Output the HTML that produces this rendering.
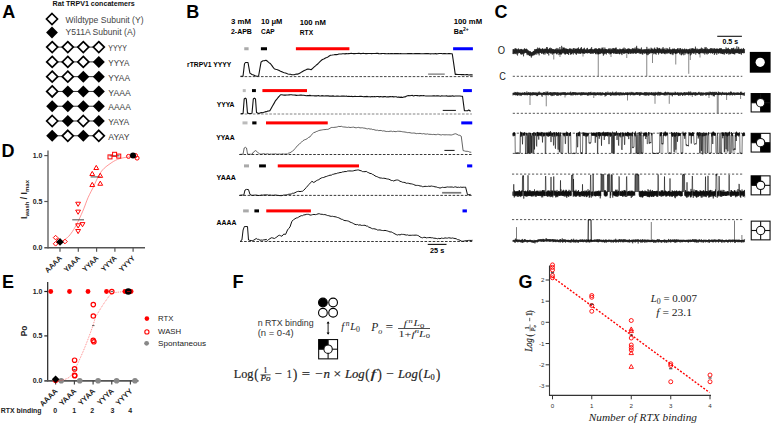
<!DOCTYPE html>
<html><head><meta charset="utf-8"><style>
html,body{margin:0;padding:0;background:#fff;width:772px;height:424px;overflow:hidden}
svg{display:block}
</style></head><body>
<svg width="772" height="424" viewBox="0 0 772 424">
<rect width="772" height="424" fill="#fff"/>
<text x="2.3" y="18" font-size="18" font-family="Liberation Sans" fill="#000" font-weight="bold">A</text>
<text x="186.3" y="18.1" font-size="18" font-family="Liberation Sans" fill="#000" font-weight="bold">B</text>
<text x="494.6" y="18.1" font-size="18" font-family="Liberation Sans" fill="#000" font-weight="bold">C</text>
<text x="1.6" y="157.3" font-size="18" font-family="Liberation Sans" fill="#000" font-weight="bold">D</text>
<text x="2" y="288.1" font-size="18" font-family="Liberation Sans" fill="#000" font-weight="bold">E</text>
<text x="232.6" y="287.9" font-size="18" font-family="Liberation Sans" fill="#000" font-weight="bold">F</text>
<text x="518.6" y="288" font-size="18" font-family="Liberation Sans" fill="#000" font-weight="bold">G</text>
<text x="52.6" y="6.4" font-size="7.9" font-family="Liberation Sans" fill="#111" font-weight="bold" textLength="82" lengthAdjust="spacingAndGlyphs">Rat TRPV1 concatemers</text>
<path d="M52 13.5 L57.5 19 L52 24.5 L46.5 19 Z" fill="#fff" stroke="#000" stroke-width="1.7"/>
<path d="M52 26.6 L57.9 32.5 L52 38.4 L46.1 32.5 Z" fill="#000"/>
<text x="65.5" y="22.9" font-size="9.0" font-family="Liberation Sans" fill="#444" textLength="78" lengthAdjust="spacingAndGlyphs">Wildtype Subunit (Y)</text>
<text x="65.5" y="35.4" font-size="9.0" font-family="Liberation Sans" fill="#444" textLength="70" lengthAdjust="spacingAndGlyphs">Y511A Subunit (A)</text>
<line x1="52.2" y1="47.1" x2="98.8" y2="47.1" stroke="#333" stroke-width="1" />
<path d="M52.2 41.6 L57.7 47.1 L52.2 52.6 L46.7 47.1 Z" fill="#fff" stroke="#000" stroke-width="1.7"/>
<path d="M67.8 41.6 L73.3 47.1 L67.8 52.6 L62.3 47.1 Z" fill="#fff" stroke="#000" stroke-width="1.7"/>
<path d="M83.3 41.6 L88.8 47.1 L83.3 52.6 L77.8 47.1 Z" fill="#fff" stroke="#000" stroke-width="1.7"/>
<path d="M98.8 41.6 L104.3 47.1 L98.8 52.6 L93.3 47.1 Z" fill="#fff" stroke="#000" stroke-width="1.7"/>
<text x="108.3" y="51.3" font-size="8.7" font-family="Liberation Sans" fill="#3a3a3a" textLength="18.5" lengthAdjust="spacingAndGlyphs">YYYY</text>
<line x1="52.2" y1="61.88" x2="98.8" y2="61.88" stroke="#333" stroke-width="1" />
<path d="M52.2 56.38 L57.7 61.88 L52.2 67.38 L46.7 61.88 Z" fill="#fff" stroke="#000" stroke-width="1.7"/>
<path d="M67.8 56.38 L73.3 61.88 L67.8 67.38 L62.3 61.88 Z" fill="#fff" stroke="#000" stroke-width="1.7"/>
<path d="M83.3 56.38 L88.8 61.88 L83.3 67.38 L77.8 61.88 Z" fill="#fff" stroke="#000" stroke-width="1.7"/>
<path d="M98.8 55.88 L104.8 61.88 L98.8 67.88 L92.8 61.88 Z" fill="#000"/>
<text x="108.3" y="66.08" font-size="8.7" font-family="Liberation Sans" fill="#3a3a3a" textLength="21" lengthAdjust="spacingAndGlyphs">YYYA</text>
<line x1="52.2" y1="76.66" x2="98.8" y2="76.66" stroke="#333" stroke-width="1" />
<path d="M52.2 71.16 L57.7 76.66 L52.2 82.16 L46.7 76.66 Z" fill="#fff" stroke="#000" stroke-width="1.7"/>
<path d="M67.8 71.16 L73.3 76.66 L67.8 82.16 L62.3 76.66 Z" fill="#fff" stroke="#000" stroke-width="1.7"/>
<path d="M83.3 70.66 L89.3 76.66 L83.3 82.66 L77.3 76.66 Z" fill="#000"/>
<path d="M98.8 70.66 L104.8 76.66 L98.8 82.66 L92.8 76.66 Z" fill="#000"/>
<text x="108.3" y="80.86" font-size="8.7" font-family="Liberation Sans" fill="#3a3a3a" textLength="21.7" lengthAdjust="spacingAndGlyphs">YYAA</text>
<line x1="52.2" y1="91.44" x2="98.8" y2="91.44" stroke="#333" stroke-width="1" />
<path d="M52.2 85.94 L57.7 91.44 L52.2 96.94 L46.7 91.44 Z" fill="#fff" stroke="#000" stroke-width="1.7"/>
<path d="M67.8 85.44 L73.8 91.44 L67.8 97.44 L61.8 91.44 Z" fill="#000"/>
<path d="M83.3 85.44 L89.3 91.44 L83.3 97.44 L77.3 91.44 Z" fill="#000"/>
<path d="M98.8 85.44 L104.8 91.44 L98.8 97.44 L92.8 91.44 Z" fill="#000"/>
<text x="108.3" y="95.64" font-size="8.7" font-family="Liberation Sans" fill="#3a3a3a" textLength="22.4" lengthAdjust="spacingAndGlyphs">YAAA</text>
<line x1="52.2" y1="106.22" x2="98.8" y2="106.22" stroke="#333" stroke-width="1" />
<path d="M52.2 100.22 L58.2 106.22 L52.2 112.22 L46.2 106.22 Z" fill="#000"/>
<path d="M67.8 100.22 L73.8 106.22 L67.8 112.22 L61.8 106.22 Z" fill="#000"/>
<path d="M83.3 100.22 L89.3 106.22 L83.3 112.22 L77.3 106.22 Z" fill="#000"/>
<path d="M98.8 100.22 L104.8 106.22 L98.8 112.22 L92.8 106.22 Z" fill="#000"/>
<text x="108.3" y="110.42" font-size="8.7" font-family="Liberation Sans" fill="#3a3a3a" textLength="22.5" lengthAdjust="spacingAndGlyphs">AAAA</text>
<line x1="52.2" y1="121" x2="98.8" y2="121" stroke="#333" stroke-width="1" />
<path d="M52.2 115.5 L57.7 121 L52.2 126.5 L46.7 121 Z" fill="#fff" stroke="#000" stroke-width="1.7"/>
<path d="M67.8 115 L73.8 121 L67.8 127 L61.8 121 Z" fill="#000"/>
<path d="M83.3 115.5 L88.8 121 L83.3 126.5 L77.8 121 Z" fill="#fff" stroke="#000" stroke-width="1.7"/>
<path d="M98.8 115 L104.8 121 L98.8 127 L92.8 121 Z" fill="#000"/>
<text x="108.3" y="125.2" font-size="8.7" font-family="Liberation Sans" fill="#3a3a3a" textLength="20.9" lengthAdjust="spacingAndGlyphs">YAYA</text>
<line x1="52.2" y1="135.78" x2="98.8" y2="135.78" stroke="#333" stroke-width="1" />
<path d="M52.2 129.78 L58.2 135.78 L52.2 141.78 L46.2 135.78 Z" fill="#000"/>
<path d="M67.8 130.28 L73.3 135.78 L67.8 141.28 L62.3 135.78 Z" fill="#fff" stroke="#000" stroke-width="1.7"/>
<path d="M83.3 129.78 L89.3 135.78 L83.3 141.78 L77.3 135.78 Z" fill="#000"/>
<path d="M98.8 130.28 L104.3 135.78 L98.8 141.28 L93.3 135.78 Z" fill="#fff" stroke="#000" stroke-width="1.7"/>
<text x="108.3" y="139.98" font-size="8.7" font-family="Liberation Sans" fill="#3a3a3a" textLength="21.1" lengthAdjust="spacingAndGlyphs">AYAY</text>
<line x1="48" y1="150.6" x2="48" y2="248.4" stroke="#555" stroke-width="1.3" />
<line x1="44.3" y1="247.75" x2="145" y2="247.75" stroke="#555" stroke-width="1.3" />
<line x1="44.3" y1="155.6" x2="48" y2="155.6" stroke="#555" stroke-width="1.2" />
<line x1="44.3" y1="201.5" x2="48" y2="201.5" stroke="#555" stroke-width="1.2" />
<text x="42.4" y="158.1" font-size="7" font-family="Liberation Sans" fill="#222" font-weight="bold" text-anchor="end">1.0</text>
<text x="42.4" y="204" font-size="7" font-family="Liberation Sans" fill="#222" font-weight="bold" text-anchor="end">0.5</text>
<text x="42.4" y="250.25" font-size="7" font-family="Liberation Sans" fill="#222" font-weight="bold" text-anchor="end">0.0</text>
<line x1="60" y1="247.75" x2="60" y2="251.8" stroke="#555" stroke-width="1.2" />
<line x1="78.3" y1="247.75" x2="78.3" y2="251.8" stroke="#555" stroke-width="1.2" />
<line x1="96.6" y1="247.75" x2="96.6" y2="251.8" stroke="#555" stroke-width="1.2" />
<line x1="114.9" y1="247.75" x2="114.9" y2="251.8" stroke="#555" stroke-width="1.2" />
<line x1="133.1" y1="247.75" x2="133.1" y2="251.8" stroke="#555" stroke-width="1.2" />
<text x="62.4" y="258.6" font-size="7.2" font-family="Liberation Sans" fill="#222" font-weight="bold" text-anchor="end" transform="rotate(-45 62.4 258.6)">AAAA</text>
<text x="80.7" y="258.6" font-size="7.2" font-family="Liberation Sans" fill="#222" font-weight="bold" text-anchor="end" transform="rotate(-45 80.7 258.6)">YAAA</text>
<text x="99" y="258.6" font-size="7.2" font-family="Liberation Sans" fill="#222" font-weight="bold" text-anchor="end" transform="rotate(-45 99 258.6)">YYAA</text>
<text x="117.3" y="258.6" font-size="7.2" font-family="Liberation Sans" fill="#222" font-weight="bold" text-anchor="end" transform="rotate(-45 117.3 258.6)">YYYA</text>
<text x="135.5" y="258.6" font-size="7.2" font-family="Liberation Sans" fill="#222" font-weight="bold" text-anchor="end" transform="rotate(-45 135.5 258.6)">YYYY</text>
<text transform="translate(27.2 199.5) rotate(-90)" text-anchor="middle" font-family="Liberation Sans" font-weight="bold" font-size="8.6" fill="#222">I<tspan font-size="6" dy="2">wash</tspan><tspan dy="-2"> / I</tspan><tspan font-size="6" dy="2">max</tspan></text>
<path d="M60.5 242.2 L61.1 241.84 L61.95 241.33 L62.96 240.71 L64 240 L65.09 239.24 L66.28 238.42 L67.52 237.44 L68.75 236.25 L69.98 234.82 L71.23 233.18 L72.49 231.36 L73.75 229.4 L75 227.27 L76.25 224.98 L77.5 222.54 L78.75 220 L80.02 217.32 L81.29 214.49 L82.55 211.61 L83.75 208.75 L84.85 205.94 L85.88 203.12 L86.94 200.31 L88.1 197.5 L89.47 194.61 L90.96 191.68 L92.44 188.84 L93.75 186.25 L94.79 183.99 L95.67 181.98 L96.52 180.06 L97.5 178.1 L98.6 176.03 L99.77 173.93 L101.04 171.89 L102.5 170 L104.2 168.26 L106.09 166.64 L108.07 165.14 L110 163.75 L111.85 162.48 L113.67 161.32 L115.54 160.29 L117.5 159.4 L119.6 158.68 L121.8 158.12 L124.03 157.66 L126.25 157.25 L128.64 156.89 L131.17 156.59 L133.43 156.36 L135 156.2" fill="none" stroke="#ff6a6a" stroke-width="0.7" stroke-linejoin="round" />
<line x1="72.25" y1="219.8" x2="84" y2="219.8" stroke="#666" stroke-width="1.2" />
<line x1="90.6" y1="176.9" x2="100.6" y2="176.9" stroke="#666" stroke-width="1.2" />
<line x1="109.5" y1="155.8" x2="119.5" y2="155.8" stroke="#666" stroke-width="1.2" />
<path d="M55.6 235.3 L57.9 237.6 L55.6 239.9 L53.3 237.6 Z" fill="#fff" stroke="#f00" stroke-width="1"/>
<path d="M55.6 241.5 L57.9 243.8 L55.6 246.1 L53.3 243.8 Z" fill="#fff" stroke="#f00" stroke-width="1"/>
<path d="M65 239.2 L67.3 241.5 L65 243.8 L62.7 241.5 Z" fill="#fff" stroke="#f00" stroke-width="1"/>
<path d="M58.5 238.5 L60.8 240.8 L58.5 243.1 L56.2 240.8 Z" fill="#fff" stroke="#f00" stroke-width="1"/>
<path d="M60 238.1 L63.8 241.9 L60 245.7 L56.2 241.9 Z" fill="#000"/>
<path d="M78.1 206.38 L80.52 202.22 L75.68 202.22 Z" fill="none" stroke="#f00" stroke-width="1"/>
<path d="M78.1 214.28 L80.52 210.12 L75.68 210.12 Z" fill="none" stroke="#f00" stroke-width="1"/>
<path d="M78.1 227.98 L80.52 223.82 L75.68 223.82 Z" fill="none" stroke="#f00" stroke-width="1"/>
<path d="M82.5 226.78 L84.92 222.62 L80.08 222.62 Z" fill="none" stroke="#f00" stroke-width="1"/>
<path d="M78.1 233.63 L80.52 229.47 L75.68 229.47 Z" fill="none" stroke="#f00" stroke-width="1"/>
<path d="M96.25 165.37 L98.67 169.53 L93.83 169.53 Z" fill="none" stroke="#f00" stroke-width="1"/>
<path d="M92.25 171.37 L94.67 175.53 L89.83 175.53 Z" fill="none" stroke="#f00" stroke-width="1"/>
<path d="M100.25 173.22 L102.67 177.38 L97.83 177.38 Z" fill="none" stroke="#f00" stroke-width="1"/>
<path d="M92.25 182.37 L94.67 186.53 L89.83 186.53 Z" fill="none" stroke="#f00" stroke-width="1"/>
<path d="M100.25 181.12 L102.67 185.28 L97.83 185.28 Z" fill="none" stroke="#f00" stroke-width="1"/>
<rect x="108" y="154.9" width="4" height="4" fill="none" stroke="#f00" stroke-width="1"/>
<rect x="112.6" y="152.3" width="4" height="4" fill="none" stroke="#f00" stroke-width="1"/>
<rect x="116.75" y="154.1" width="4" height="4" fill="none" stroke="#f00" stroke-width="1"/>
<circle cx="128.5" cy="156.4" r="2" fill="none" stroke="#f00" stroke-width="1"/>
<circle cx="137.1" cy="158.1" r="2" fill="none" stroke="#f00" stroke-width="1"/>
<circle cx="135.5" cy="155.5" r="2" fill="none" stroke="#f00" stroke-width="1"/>
<circle cx="133" cy="155.6" r="3" fill="#000" stroke="none" stroke-width="1"/>
<line x1="47.7" y1="281.9" x2="47.7" y2="381.5" stroke="#222" stroke-width="1.2" />
<line x1="44.3" y1="380.8" x2="138.5" y2="380.8" stroke="#555" stroke-width="1.8" />
<line x1="44.3" y1="291.5" x2="47.7" y2="291.5" stroke="#222" stroke-width="1.2" />
<line x1="44.3" y1="335.9" x2="47.7" y2="335.9" stroke="#222" stroke-width="1.2" />
<text x="42.4" y="294" font-size="7" font-family="Liberation Sans" fill="#222" font-weight="bold" text-anchor="end">1.0</text>
<text x="42.4" y="338.4" font-size="7" font-family="Liberation Sans" fill="#222" font-weight="bold" text-anchor="end">0.5</text>
<text x="42.4" y="383.3" font-size="7" font-family="Liberation Sans" fill="#222" font-weight="bold" text-anchor="end">0.0</text>
<line x1="55.6" y1="380.8" x2="55.6" y2="384.6" stroke="#444" stroke-width="1.2" />
<line x1="74.4" y1="380.8" x2="74.4" y2="384.6" stroke="#444" stroke-width="1.2" />
<line x1="93.1" y1="380.8" x2="93.1" y2="384.6" stroke="#444" stroke-width="1.2" />
<line x1="111.75" y1="380.8" x2="111.75" y2="384.6" stroke="#444" stroke-width="1.2" />
<line x1="130.4" y1="380.8" x2="130.4" y2="384.6" stroke="#444" stroke-width="1.2" />
<text x="58.2" y="391.6" font-size="7.6" font-family="Liberation Sans" fill="#222" font-weight="bold" text-anchor="end" transform="rotate(-45 58.2 391.6)">AAAA</text>
<text x="77" y="391.6" font-size="7.6" font-family="Liberation Sans" fill="#222" font-weight="bold" text-anchor="end" transform="rotate(-45 77 391.6)">YAAA</text>
<text x="95.7" y="391.6" font-size="7.6" font-family="Liberation Sans" fill="#222" font-weight="bold" text-anchor="end" transform="rotate(-45 95.7 391.6)">YYAA</text>
<text x="114.35" y="391.6" font-size="7.6" font-family="Liberation Sans" fill="#222" font-weight="bold" text-anchor="end" transform="rotate(-45 114.35 391.6)">YYYA</text>
<text x="133" y="391.6" font-size="7.6" font-family="Liberation Sans" fill="#222" font-weight="bold" text-anchor="end" transform="rotate(-45 133 391.6)">YYYY</text>
<text transform="translate(27 331) rotate(-90)" text-anchor="middle" font-family="Liberation Sans" font-weight="bold" font-size="8.4" fill="#222">Po</text>
<text x="0.8" y="412.8" font-size="7" font-family="Liberation Sans" fill="#222" font-weight="bold" textLength="40.7" lengthAdjust="spacingAndGlyphs">RTX binding</text>
<text x="55.1" y="412.7" font-size="7" font-family="Liberation Sans" fill="#222" font-weight="bold" text-anchor="middle">0</text>
<text x="74.1" y="412.7" font-size="7" font-family="Liberation Sans" fill="#222" font-weight="bold" text-anchor="middle">1</text>
<text x="92.2" y="412.7" font-size="7" font-family="Liberation Sans" fill="#222" font-weight="bold" text-anchor="middle">2</text>
<text x="112.4" y="412.7" font-size="7" font-family="Liberation Sans" fill="#222" font-weight="bold" text-anchor="middle">3</text>
<text x="130.3" y="412.7" font-size="7" font-family="Liberation Sans" fill="#222" font-weight="bold" text-anchor="middle">4</text>
<circle cx="61.25" cy="380.8" r="2.8" fill="#888" stroke="none" stroke-width="1"/>
<circle cx="79.75" cy="380.8" r="2.8" fill="#888" stroke="none" stroke-width="1"/>
<circle cx="98.1" cy="380.8" r="2.8" fill="#888" stroke="none" stroke-width="1"/>
<circle cx="116.6" cy="380.8" r="2.8" fill="#888" stroke="none" stroke-width="1"/>
<circle cx="135" cy="380.8" r="2.8" fill="#888" stroke="none" stroke-width="1"/>
<path d="M56 381 L57.1 380.88 L58.69 380.71 L60.43 380.48 L62 380.2 L63.34 379.87 L64.62 379.49 L65.84 379.04 L67 378.5 L68.03 378.01 L68.95 377.52 L69.9 376.77 L71 375.5 L72.3 373.58 L73.73 371.17 L75.24 368.43 L76.75 365.5 L78.31 362.3 L79.92 358.78 L81.51 355.19 L83 351.75 L84.34 348.57 L85.58 345.5 L86.78 342.43 L88 339.25 L89.31 335.77 L90.66 332.09 L91.93 328.56 L93 325.5 L93.74 323.11 L94.25 321.19 L94.76 319.42 L95.5 317.5 L96.54 315.38 L97.77 313.21 L99.1 311 L100.5 308.75 L102 306.37 L103.62 303.88 L105.25 301.49 L106.75 299.4 L108 297.64 L109.09 296.11 L110.27 294.81 L111.75 293.75 L113.63 292.99 L115.78 292.5 L118.1 292.17 L120.5 291.9 L123.25 291.69 L126.3 291.58 L129.07 291.54 L131 291.5" fill="none" stroke="#ff3030" stroke-width="0.6" stroke-linejoin="round" stroke-dasharray="0.9 0.9"/>
<circle cx="50.75" cy="291.5" r="2.4" fill="#f00" stroke="none" stroke-width="1"/>
<circle cx="69.5" cy="291.5" r="2.4" fill="#f00" stroke="none" stroke-width="1"/>
<circle cx="88" cy="291.5" r="2.4" fill="#f00" stroke="none" stroke-width="1"/>
<circle cx="106.5" cy="291.5" r="2.4" fill="#f00" stroke="none" stroke-width="1"/>
<circle cx="124.9" cy="291.5" r="2.4" fill="#f00" stroke="none" stroke-width="1"/>
<circle cx="131.1" cy="291.5" r="2.4" fill="#f00" stroke="none" stroke-width="1"/>
<circle cx="74.6" cy="360.2" r="2.2" fill="none" stroke="#f00" stroke-width="1.2"/>
<circle cx="74.6" cy="368.9" r="2.2" fill="none" stroke="#f00" stroke-width="1.2"/>
<circle cx="74.6" cy="375.3" r="2.2" fill="none" stroke="#f00" stroke-width="1.2"/>
<circle cx="74.7" cy="375.8" r="2.2" fill="none" stroke="#f00" stroke-width="1.2"/>
<circle cx="93.3" cy="304.6" r="2.2" fill="none" stroke="#f00" stroke-width="1.2"/>
<circle cx="93.3" cy="316" r="2.2" fill="none" stroke="#f00" stroke-width="1.2"/>
<circle cx="93.2" cy="340.4" r="2.2" fill="none" stroke="#f00" stroke-width="1.2"/>
<circle cx="93.9" cy="341.8" r="2.2" fill="none" stroke="#f00" stroke-width="1.2"/>
<circle cx="111.8" cy="291.6" r="2.2" fill="none" stroke="#f00" stroke-width="1.2"/>
<circle cx="55.6" cy="380.3" r="2.2" fill="none" stroke="#f00" stroke-width="1.2"/>
<circle cx="128.3" cy="291.5" r="3.3" fill="#000" stroke="none" stroke-width="1"/>
<line x1="127" y1="291.5" x2="130.5" y2="291.5" stroke="#f00" stroke-width="0.6" />
<line x1="92.1" y1="325.6" x2="94.5" y2="325.6" stroke="#333" stroke-width="0.8" />
<line x1="73.3" y1="369.5" x2="75.7" y2="369.5" stroke="#333" stroke-width="0.8" />
<line x1="110.6" y1="291.6" x2="113" y2="291.6" stroke="#333" stroke-width="0.8" />
<path d="M55.6 375.5 L59.4 379.3 L55.6 383.1 L51.8 379.3 Z" fill="#000"/>
<circle cx="146.9" cy="318.6" r="2.3" fill="#f00" stroke="none" stroke-width="1"/>
<text x="158.1" y="321.2" font-size="8" font-family="Liberation Sans" fill="#222" textLength="15.3" lengthAdjust="spacingAndGlyphs">RTX</text>
<circle cx="146.9" cy="331.9" r="2.1" fill="none" stroke="#f00" stroke-width="1.1"/>
<text x="158.1" y="334.4" font-size="8" font-family="Liberation Sans" fill="#222" textLength="23" lengthAdjust="spacingAndGlyphs">WASH</text>
<circle cx="146.6" cy="343.3" r="2.4" fill="#888" stroke="none" stroke-width="1"/>
<text x="158.1" y="345.7" font-size="8" font-family="Liberation Sans" fill="#222" textLength="48.1" lengthAdjust="spacingAndGlyphs">Spontaneous</text>
<text x="231" y="24.1" font-size="7.1" font-family="Liberation Sans" fill="#000" font-weight="bold" textLength="20" lengthAdjust="spacingAndGlyphs">3 mM</text>
<text x="231" y="34" font-size="7.1" font-family="Liberation Sans" fill="#000" font-weight="bold" textLength="20.9" lengthAdjust="spacingAndGlyphs">2-APB</text>
<text x="261" y="24.1" font-size="7.1" font-family="Liberation Sans" fill="#000" font-weight="bold" textLength="21.2" lengthAdjust="spacingAndGlyphs">10 μM</text>
<text x="261" y="34" font-size="7.1" font-family="Liberation Sans" fill="#000" font-weight="bold" textLength="13.7" lengthAdjust="spacingAndGlyphs">CAP</text>
<text x="299.8" y="25" font-size="7.1" font-family="Liberation Sans" fill="#000" font-weight="bold" textLength="26.1" lengthAdjust="spacingAndGlyphs">100 nM</text>
<text x="299.8" y="34.7" font-size="7.1" font-family="Liberation Sans" fill="#000" font-weight="bold" textLength="13.3" lengthAdjust="spacingAndGlyphs">RTX</text>
<text x="453.8" y="24" font-size="7.1" font-family="Liberation Sans" fill="#000" font-weight="bold" textLength="28.3" lengthAdjust="spacingAndGlyphs">100 mM</text>
<text x="453.8" y="34" font-family="Liberation Sans" font-weight="bold" font-size="7.1" fill="#000">Ba<tspan font-size="5" dy="-2.6">2+</tspan></text>
<text x="231.3" y="66.9" font-size="7.3" font-family="Liberation Sans" fill="#000" font-weight="bold" text-anchor="end" textLength="44.3" lengthAdjust="spacingAndGlyphs">rTRPV1 YYYY</text>
<text x="234.5" y="107.1" font-size="7.3" font-family="Liberation Sans" fill="#000" font-weight="bold" text-anchor="end" textLength="17.8" lengthAdjust="spacingAndGlyphs">YYYA</text>
<text x="234.6" y="139.6" font-size="7.3" font-family="Liberation Sans" fill="#000" font-weight="bold" text-anchor="end" textLength="18.4" lengthAdjust="spacingAndGlyphs">YYAA</text>
<text x="235.9" y="179.8" font-size="7.3" font-family="Liberation Sans" fill="#000" font-weight="bold" text-anchor="end" textLength="19.3" lengthAdjust="spacingAndGlyphs">YAAA</text>
<text x="236.5" y="224.6" font-size="7.3" font-family="Liberation Sans" fill="#000" font-weight="bold" text-anchor="end" textLength="19.9" lengthAdjust="spacingAndGlyphs">AAAA</text>
<rect x="244.25" y="47.25" width="4.35" height="3" fill="#aaa"/>
<rect x="260.9" y="47.25" width="6.1" height="3" fill="#000"/>
<rect x="295.9" y="47.25" width="53.5" height="3" fill="#f00"/>
<rect x="453.1" y="47.25" width="19.8" height="3" fill="#00f"/>
<rect x="242.75" y="89.1" width="3" height="3" fill="#bbb"/>
<rect x="252" y="89.1" width="3.9" height="3" fill="#000"/>
<rect x="262.4" y="89.1" width="44.6" height="3" fill="#f00"/>
<rect x="463.1" y="89.1" width="8.8" height="3" fill="#00f"/>
<rect x="242.5" y="121.4" width="5" height="3" fill="#bbb"/>
<rect x="252.25" y="121.4" width="4.25" height="3" fill="#000"/>
<rect x="266" y="121.4" width="61.75" height="3" fill="#f00"/>
<rect x="461.25" y="121.4" width="11" height="3" fill="#00f"/>
<rect x="244" y="164.4" width="5" height="3" fill="#aaa"/>
<rect x="259.1" y="164.4" width="6.8" height="3" fill="#000"/>
<rect x="277.75" y="164.4" width="81.25" height="3" fill="#f00"/>
<rect x="467.1" y="164.4" width="5.15" height="3" fill="#00f"/>
<rect x="243.1" y="209.4" width="5.65" height="3" fill="#aaa"/>
<rect x="254.4" y="209.4" width="4.6" height="3" fill="#000"/>
<rect x="266.25" y="209.4" width="44.65" height="3" fill="#f00"/>
<rect x="462.5" y="209.4" width="4.4" height="3" fill="#00f"/>
<line x1="240.5" y1="76.6" x2="472.75" y2="76.6" stroke="#333" stroke-width="0.9" stroke-dasharray="2.6 1.5"/>
<line x1="240.6" y1="114" x2="471.9" y2="114" stroke="#777" stroke-width="0.9" stroke-dasharray="2.6 1.5"/>
<line x1="239.4" y1="154.5" x2="471.9" y2="154.5" stroke="#222" stroke-width="0.9" stroke-dasharray="2.6 1.5"/>
<line x1="239.4" y1="195.4" x2="472" y2="195.4" stroke="#222" stroke-width="0.9" stroke-dasharray="2.6 1.5"/>
<line x1="240" y1="241.5" x2="472.5" y2="241.5" stroke="#222" stroke-width="0.9" stroke-dasharray="2.6 1.5"/>
<path d="M240.5 76.25 L241.75 76.25 L243 76.25 L244.5 63.75 L245.5 62.5 L246.75 62.5 L248 62.5 L249.9 73.1 L252 74.5 L253.58 74.94 L255.17 75.81 L256.75 76.25 L258.6 76 L259.85 68.95 L261.1 61.9 L263 60.8 L264.5 60.63 L266 60.25 L267.5 61.32 L269 62.58 L270.5 63.75 L271.75 65.4 L273 67.14 L274.25 68.75 L275.5 69.33 L276.75 69.51 L278 69.95 L279.25 70.6 L280.5 71.27 L281.75 71.65 L283 72.32 L284.25 72.75 L285.5 72.97 L286.75 73.56 L288 74 L289.25 74.28 L290.5 74.27 L291.75 74.74 L293 74.75 L294.25 74.75 L295.5 74.24 L296.75 74.07 L298 74.1 L299.25 73.4 L300.5 72.85 L301.75 71.91 L303 71.25 L304.25 70.57 L305.5 70.09 L306.75 69.37 L308 69 L309.55 69.26 L311.1 69.75 L312.68 68.3 L314.25 66.9 L315.5 65.85 L316.75 64.69 L318 63.75 L319.25 62.39 L320.5 61.14 L321.75 60 L323 59.36 L324.25 58.67 L325.5 57.93 L326.75 57.5 L328 56.89 L329.25 56.02 L330.5 55.25 L332.25 55.06 L334 54.75 L335.21 54.48 L336.43 54.66 L337.64 54.47 L338.86 54.03 L340.07 53.97 L341.29 53.98 L342.5 53.75 L343.75 53.79 L345 53.84 L346.25 53.59 L347.5 53.72 L348.75 53.61 L350 53.5 L351.2 53.42 L352.41 53.54 L353.61 53.66 L354.81 53.65 L356.01 53.52 L357.22 53.55 L358.42 53.33 L359.62 53.42 L360.83 53.65 L362.03 53.5 L363.23 53.4 L364.44 53.55 L365.64 53.62 L366.84 53.61 L368.04 53.49 L369.25 53.52 L370.45 53.55 L371.65 53.66 L372.86 53.56 L374.06 53.52 L375.26 53.56 L376.46 53.38 L377.67 53.39 L378.87 53.65 L380.07 53.77 L381.28 53.61 L382.48 53.54 L383.68 53.45 L384.89 53.59 L386.09 53.78 L387.29 53.7 L388.49 53.61 L389.7 53.74 L390.9 53.49 L392.1 53.61 L393.31 53.79 L394.51 53.64 L395.71 53.6 L396.91 53.52 L398.12 53.64 L399.32 53.8 L400.52 53.43 L401.73 53.74 L402.93 53.76 L404.13 53.79 L405.34 53.73 L406.54 53.76 L407.74 53.65 L408.94 53.67 L410.15 53.62 L411.35 53.47 L412.55 53.8 L413.76 53.68 L414.96 53.54 L416.16 53.66 L417.36 53.66 L418.57 53.61 L419.77 53.61 L420.97 53.69 L422.18 53.73 L423.38 53.72 L424.58 53.67 L425.79 53.5 L426.99 53.58 L428.19 53.56 L429.39 53.73 L430.6 53.84 L431.8 53.82 L433 53.82 L434.21 53.83 L435.41 53.61 L436.61 53.85 L437.81 53.78 L439.02 53.55 L440.22 53.53 L441.42 53.53 L442.63 53.83 L443.83 53.63 L445.03 53.58 L446.24 53.79 L447.44 53.68 L448.64 53.57 L449.84 53.61 L451.05 53.76 L452.25 53.75 L453.75 63.94 L455.25 74.4 L456.5 74.35 L457.75 74.57 L459 74.51 L460.25 74.5 L461.5 74.6 L462.75 74.47 L464 74.65 L465.25 74.71 L466.5 74.66 L467.75 74.67 L469 75.03 L470.25 74.92 L471.5 74.84 L472.75 75" fill="none" stroke="#111" stroke-width="1.1" stroke-linejoin="round" />
<path d="M240.6 113.75 L241.85 113.62 L243.1 113.5 L244.2 99 L245.3 98.1 L246.3 99 L247.5 113.1 L249 113.39 L250.5 113.46 L252 113.3 L253.3 99 L254.4 98.1 L255.5 99 L256.5 112.5 L258.75 113.5 L260 112.96 L261.25 112.65 L262.5 112.71 L263.75 112.34 L265 111.9 L266.25 111.66 L267.5 111.15 L268.75 110.98 L270 110.6 L271.25 108.3 L272.5 106 L274.05 103.35 L275.6 100.6 L276.85 99.18 L278.1 97.5 L279.35 96.18 L280.6 94.75 L281.82 94.73 L283.05 94.93 L284.27 95.1 L285.49 95.11 L286.71 94.94 L287.94 94.93 L289.16 94.87 L290.38 94.79 L291.6 94.82 L292.83 95.07 L294.05 95.03 L295.27 95.1 L296.5 95.39 L297.72 95.24 L298.94 95.29 L300.16 95.16 L301.39 95.09 L302.61 95.28 L303.83 95.22 L305.05 95.44 L306.28 95.72 L307.5 95.5 L308.72 95.61 L309.94 95.39 L311.16 95.77 L312.38 95.74 L313.59 95.73 L314.81 95.84 L316.03 95.79 L317.25 95.83 L318.47 95.63 L319.69 95.97 L320.91 95.98 L322.12 95.61 L323.34 95.92 L324.56 95.93 L325.78 95.82 L327 95.88 L328.22 95.88 L329.44 96.12 L330.66 95.94 L331.88 96.12 L333.09 95.91 L334.31 96.2 L335.53 96.23 L336.75 96.03 L337.97 96.11 L339.19 96.31 L340.41 96.23 L341.62 96.13 L342.84 96.03 L344.06 96.1 L345.28 96.31 L346.5 96.07 L347.72 96.46 L348.94 96.16 L350.16 96.51 L351.38 96.23 L352.59 96.58 L353.81 96.47 L355.03 96.4 L356.25 96.43 L357.47 96.52 L358.69 96.51 L359.91 96.39 L361.12 96.36 L362.34 96.54 L363.56 96.77 L364.78 96.64 L366 96.6 L367.21 96.4 L368.42 96.78 L369.62 96.74 L370.83 96.84 L372.04 96.49 L373.25 96.77 L374.46 96.44 L375.67 96.74 L376.88 96.56 L378.08 96.55 L379.29 96.88 L380.5 96.5 L381.71 96.72 L382.92 96.89 L384.12 96.6 L385.33 96.59 L386.54 96.93 L387.75 96.71 L388.96 96.87 L390.17 96.53 L391.38 96.71 L392.58 96.62 L393.79 96.88 L395 96.8 L396.25 96.71 L397.5 97.26 L398.75 96.91 L400 97.38 L401.25 97.14 L402.5 97.5 L403.75 97 L405 96.9 L406.25 96.19 L407.5 95.82 L408.75 95.6 L409.97 95.71 L411.19 95.57 L412.41 95.42 L413.64 95.9 L414.86 95.5 L416.08 95.46 L417.3 95.63 L418.52 95.78 L419.74 95.85 L420.97 95.55 L422.19 95.68 L423.41 95.54 L424.63 95.77 L425.85 95.94 L427.07 95.94 L428.3 96.04 L429.52 95.98 L430.74 96.05 L431.96 95.98 L433.18 95.88 L434.4 95.77 L435.62 96.01 L436.85 95.85 L438.07 95.76 L439.29 95.94 L440.51 96.17 L441.73 95.81 L442.95 96.06 L444.18 95.97 L445.4 96.05 L446.62 95.88 L447.84 96.3 L449.06 95.97 L450.28 96.16 L451.51 96.08 L452.73 95.89 L453.95 96.18 L455.17 95.98 L456.39 95.95 L457.61 95.96 L458.84 96.04 L460.06 96.02 L461.28 96.3 L462.5 96.25 L464.4 110.6 L465.95 110.68 L467.5 110.75 L468.75 110 L470.6 111.25" fill="none" stroke="#111" stroke-width="1.1" stroke-linejoin="round" />
<path d="M239.4 154.5 L241.2 154.24 L243 154.3 L244.2 148 L245.25 147.25 L246.5 148 L247.6 154.2 L249.07 154.26 L250.53 154.19 L252 154.3 L253.5 152 L255.6 150.6 L257.5 152 L259.5 154 L260.72 154.06 L261.93 154.08 L263.15 153.74 L264.37 153.71 L265.59 154.2 L266.8 153.86 L268.02 153.84 L269.24 154.3 L270.46 153.98 L271.67 154.2 L272.89 153.99 L274.11 154.08 L275.33 153.79 L276.54 154.08 L277.76 154.22 L278.98 154.01 L280.2 154.14 L281.41 154.1 L282.63 153.74 L283.85 154.15 L285.07 154.05 L286.28 153.88 L287.5 154 L288.75 153.03 L290 152.84 L291.25 151.92 L292.5 151.25 L293.75 149.97 L295 148.65 L296.25 147.14 L297.5 145.6 L298.9 144.6 L300.3 143.04 L301.7 142.03 L303.1 140.6 L304.48 139.83 L305.86 139.38 L307.24 138.61 L308.62 137.4 L310 136.9 L311.25 135.21 L312.5 133.8 L313.75 132.5 L315 132.33 L316.25 131.56 L317.5 131.23 L318.75 130.58 L320 130.25 L321.25 130.08 L322.5 129.82 L323.75 129.62 L325 129.59 L326.25 129.41 L327.5 129.42 L328.75 129 L330 128.25 L331.25 127.5 L332.5 127.45 L333.75 127.44 L335 127.25 L336.25 127.17 L337.5 126.82 L338.75 126.36 L340 126.62 L341.25 126.25 L342.5 126.78 L343.75 126.99 L345 127.04 L346.25 127.25 L347.5 127.41 L348.75 127.13 L350 127.53 L351.25 127.41 L352.5 127.26 L353.75 127.15 L355 127.66 L356.25 127.77 L357.5 127.5 L358.75 127.37 L360 127.92 L361.25 127.81 L362.5 127.77 L363.75 128.1 L365 128.17 L366.25 128.64 L367.5 128.89 L368.75 128.58 L370 129.11 L371.25 128.96 L372.5 129.55 L373.75 129.51 L375 130.03 L376.25 130.28 L377.5 130.18 L378.75 130.67 L380 130.44 L381.25 130.49 L382.5 130.99 L383.75 130.84 L385 131.13 L386.25 131.5 L387.5 131.43 L388.75 131.53 L390 131.24 L391.25 131.15 L392.5 131.63 L393.75 131.28 L395 131.65 L396.25 131.59 L397.5 131.26 L398.75 131.29 L400 131.3 L401.25 131.49 L402.5 131.75 L403.75 131.9 L405 132.06 L406.25 132.27 L407.5 132.64 L408.75 132.56 L410 132.7 L411.25 133.05 L412.5 133.1 L413.75 133.03 L415 133.15 L416.25 133.65 L417.5 133.46 L418.75 133.56 L420 133.33 L421.25 133.66 L422.5 133.84 L423.75 133.59 L425 134.04 L426.25 134.13 L427.5 133.88 L428.75 134.3 L430 134.29 L431.25 134.4 L432.5 134.55 L433.75 134.39 L435 134.64 L436.25 134.69 L437.5 134.3 L438.75 134.36 L440 134.77 L441.25 134.98 L442.5 134.59 L443.75 134.75 L445 134.87 L446.25 134.74 L447.5 134.81 L448.75 134.81 L450 134.88 L451.25 135 L452.7 134.64 L454.15 134.05 L455.6 133.75 L457.01 134.3 L458.43 135.16 L459.84 135.34 L461.25 136.25 L463.1 150.6 L464.46 150.92 L465.82 151.29 L467.18 151.31 L468.53 151.53 L469.89 152.16 L471.25 152.25" fill="none" stroke="#222" stroke-width="0.7" stroke-linejoin="round" />
<path d="M239.4 195.4 L240.85 195.17 L242.3 195.03 L243.75 195.2 L245 190 L246.5 189.4 L248.5 189.6 L250 194.5 L252 195.4 L253.2 195.31 L254.4 195.14 L255.6 195.06 L256.8 195.23 L258 195.52 L259.2 195.42 L260.4 195.37 L261.6 195.02 L262.8 195.18 L264 195 L265.2 194.91 L266.4 194.84 L267.6 194.88 L268.8 195.28 L270 195 L271.25 195.25 L272.5 195.28 L273.75 195.33 L275 195.02 L276.25 195.14 L277.5 195.38 L278.75 195.49 L280 195.61 L281.25 195.68 L282.5 195.5 L283.75 195.04 L285 195.13 L286.25 194.96 L287.5 194.65 L288.75 194.24 L290 194.2 L291.25 194 L292.5 193.25 L293.75 193.26 L295 192.72 L296.25 192.03 L297.5 191.5 L298.75 191.32 L300 191.62 L301.25 191.36 L302.5 191.25 L303.75 190.23 L305 188.96 L306.25 187.5 L307.66 185.94 L309.07 184.32 L310.49 182.87 L311.9 181.25 L313.75 182.5 L315 181.71 L316.25 180.8 L317.5 180.13 L318.75 179.69 L320 178.75 L321.25 178.03 L322.5 177.58 L323.75 177.48 L325 176.82 L326.25 176.52 L327.5 176.03 L328.75 175.6 L330 175.17 L331.25 175.22 L332.5 174.4 L333.75 174.2 L335 173.73 L336.25 173.65 L337.5 173.1 L338.75 172.9 L340 172.53 L341.25 172.49 L342.5 171.95 L343.75 171.82 L345 171.5 L346.25 171.64 L347.5 171.06 L348.75 170.94 L350 170.94 L351.25 171 L352.5 170.99 L353.75 170.74 L355 170.34 L356.25 170.23 L357.5 169.97 L358.75 170 L360 170.51 L361.25 170.79 L362.5 171.6 L363.75 171.65 L365 171.7 L366.25 171.4 L367.5 172.27 L368.75 172.74 L370 173.48 L371.25 173.51 L372.5 174.4 L373.75 174.89 L375 175.92 L376.25 176.43 L377.5 176.83 L378.75 177.5 L380 177.98 L381.25 178 L382.5 178.33 L383.75 178.23 L385 178.39 L386.25 178.75 L387.5 179 L388.75 179.18 L390 179.73 L391.25 180.48 L392.5 180.5 L393.75 181 L395 180.37 L396.25 180.06 L397.5 180 L398.75 180.36 L400 181.3 L401.25 181.61 L402.5 182.25 L403.75 182.37 L405 182.51 L406.25 183.29 L407.5 183.2 L408.75 183.32 L410 183.75 L411.25 183.82 L412.5 184.14 L413.75 184.54 L415 185.18 L416.25 185.4 L417.5 185.39 L418.75 185.52 L420 185.99 L421.25 186.05 L422.5 186.7 L423.75 186.6 L425 186.27 L426.25 186.42 L427.5 186.46 L428.75 186.15 L430 186.39 L431.25 186 L432.5 186.29 L433.75 186.45 L435 186.85 L436.25 186.92 L437.5 187.45 L438.75 187.65 L440 188.1 L441.25 187.68 L442.5 187.25 L443.72 187.48 L444.93 187.43 L446.15 187.23 L447.36 186.94 L448.58 187.06 L449.79 187.05 L451.01 187.02 L452.23 187.03 L453.44 187.4 L454.66 186.96 L455.87 186.89 L457.09 187.41 L458.31 187.19 L459.52 187.43 L460.74 187.07 L461.95 187.36 L463.17 187.21 L464.38 187.28 L465.6 187.1 L467.5 194.75 L469.05 194.72 L470.6 194.4" fill="none" stroke="#111" stroke-width="1.0" stroke-linejoin="round" />
<path d="M240 241.5 L241.9 240 L243.1 230 L244.4 226.5 L245.95 226.57 L247.5 226.5 L248.5 240 L249.83 240.35 L251.17 240.58 L252.5 240.6 L253.75 240.17 L255 239.34 L256.25 238.5 L257.5 239.34 L258.75 239.38 L260 240.25 L261.25 240.06 L262.5 240.18 L263.75 239.83 L265 239.81 L266.25 239.4 L267.5 240.6 L268.75 239.42 L270 238.68 L271.25 237.75 L272.82 237.97 L274.4 238.5 L275.65 237.71 L276.9 236.92 L278.15 235.77 L279.4 235.25 L280.65 235.75 L281.9 236.25 L283.75 234.1 L285.6 234.4 L287.5 230 L288.75 228.45 L290 226.9 L291.9 221.25 L293.45 219.83 L295 218.75 L296.25 217.99 L297.5 217.75 L298.75 217.03 L300 216.25 L301.25 215.68 L302.5 215.69 L303.75 214.92 L305 214.84 L306.25 214.4 L307.5 214.33 L308.75 214.4 L310 215.07 L311.25 215 L312.61 214.62 L313.97 214.41 L315.32 214.66 L316.68 214.39 L318.04 213.83 L319.4 213.75 L320.77 214.28 L322.14 214.27 L323.51 214.61 L324.88 214.57 L326.25 215 L327.5 215.54 L328.75 215.67 L330 216.11 L331.25 216.35 L332.5 216.27 L333.75 216.58 L335 216.74 L336.25 217.01 L337.5 217.5 L338.75 217.79 L340 218.48 L341.25 219.21 L342.5 219.4 L343.75 220.25 L345 220.61 L346.25 220.65 L347.5 220.89 L348.75 221.25 L350 222.07 L351.25 222.5 L352.5 223.03 L353.75 223.76 L355 224.4 L356.25 224.69 L357.5 224.47 L358.75 225.19 L360 224.78 L361.25 225.38 L362.5 225.4 L363.75 225.32 L365 225.25 L366.25 226.04 L367.5 226.13 L368.75 227.17 L370 227.5 L371.25 228.21 L372.5 228.75 L373.75 228.71 L375 228.98 L376.25 229.31 L377.5 230.02 L378.75 230 L380 229.9 L381.25 230.31 L382.5 230.5 L383.75 230.59 L385 230.4 L386.25 230.66 L387.5 231.01 L388.75 231.46 L390 231.97 L391.25 231.91 L392.5 232.5 L393.75 233.27 L395 233.93 L396.25 234.59 L397.5 235 L398.75 234.57 L400 234.97 L401.25 234.3 L402.5 234.4 L403.75 234.45 L405 234.75 L406.25 235.08 L407.5 234.87 L408.75 235.36 L410 235.25 L411.25 235.3 L412.5 235.19 L413.75 235.22 L415 235.16 L416.25 235.12 L417.5 235.4 L418.75 235.89 L420 236.91 L421.25 237.5 L422.5 237.83 L423.75 237.35 L425 237.31 L426.25 237.9 L427.5 237.66 L428.75 237.61 L430 237.54 L431.25 237.78 L432.5 237.75 L433.75 238.2 L435 238.22 L436.25 238.45 L437.5 238.75 L438.75 238.37 L440 238.78 L441.25 238.14 L442.5 238.3 L443.75 238.4 L445 237.86 L446.25 238.11 L447.5 238.13 L448.75 237.75 L450 237.98 L451.25 238.22 L452.5 237.96 L453.75 238.31 L455 238.5 L456.25 238.75 L457.5 239.62 L458.75 239.75 L460 240.31 L461.25 241.09 L462.5 241.25 L464.05 241.14 L465.6 240.6 L466.98 240.82 L468.36 240.43 L469.74 240.38 L471.12 240.46 L472.5 240.25" fill="none" stroke="#111" stroke-width="1.0" stroke-linejoin="round" />
<line x1="428.1" y1="74.1" x2="444.75" y2="74.1" stroke="#555" stroke-width="1.0" />
<line x1="442.75" y1="110.4" x2="455.9" y2="110.4" stroke="#111" stroke-width="1.0" />
<line x1="444.4" y1="150.4" x2="454.6" y2="150.4" stroke="#111" stroke-width="1.0" />
<line x1="442.1" y1="192.75" x2="461.25" y2="192.75" stroke="#777" stroke-width="1.7" />
<line x1="427.75" y1="244.4" x2="446.5" y2="244.4" stroke="#111" stroke-width="1.1" />
<text x="430" y="252.9" font-size="7.3" font-family="Liberation Sans" fill="#000" font-weight="bold" textLength="14.2" lengthAdjust="spacingAndGlyphs">25 s</text>
<text x="497.8" y="53.8" font-size="10.3" font-family="Liberation Sans" fill="#222" textLength="7.3" lengthAdjust="spacingAndGlyphs">O</text>
<text x="499.3" y="80.1" font-size="10.3" font-family="Liberation Sans" fill="#222" textLength="6.6" lengthAdjust="spacingAndGlyphs">C</text>
<line x1="717.25" y1="36.3" x2="741.9" y2="36.3" stroke="#111" stroke-width="1.1" />
<text x="722.5" y="44.4" font-size="7" font-family="Liberation Sans" fill="#000" font-weight="bold" textLength="15.6" lengthAdjust="spacingAndGlyphs">0.5 s</text>
<line x1="512.75" y1="76.3" x2="742.3" y2="76.3" stroke="#444" stroke-width="0.9" stroke-dasharray="2.2 1.8"/>
<line x1="512.75" y1="113.3" x2="742.3" y2="113.3" stroke="#444" stroke-width="0.9" stroke-dasharray="2.2 1.8"/>
<line x1="512.75" y1="153.4" x2="742.3" y2="153.4" stroke="#444" stroke-width="0.9" stroke-dasharray="2.2 1.8"/>
<line x1="512.75" y1="133.2" x2="742.3" y2="133.2" stroke="#444" stroke-width="0.9" stroke-dasharray="2.2 1.8"/>
<line x1="512" y1="174.1" x2="742.3" y2="174.1" stroke="#444" stroke-width="0.9" stroke-dasharray="2.2 1.8"/>
<line x1="512" y1="219.6" x2="742.3" y2="219.6" stroke="#444" stroke-width="0.9" stroke-dasharray="2.2 1.8"/>
<line x1="553.75" y1="52" x2="553.75" y2="59.5" stroke="#555" stroke-width="0.7" />
<line x1="598.25" y1="52" x2="598.25" y2="76.3" stroke="#555" stroke-width="0.7" />
<line x1="626.75" y1="52" x2="626.75" y2="58" stroke="#555" stroke-width="0.7" />
<line x1="646.75" y1="52" x2="646.75" y2="76.3" stroke="#555" stroke-width="0.7" />
<line x1="652.5" y1="52" x2="652.5" y2="63" stroke="#555" stroke-width="0.7" />
<line x1="675.75" y1="52" x2="675.75" y2="64.5" stroke="#555" stroke-width="0.7" />
<line x1="688.75" y1="52" x2="688.75" y2="73.8" stroke="#555" stroke-width="0.7" />
<line x1="690.3" y1="52" x2="690.3" y2="60" stroke="#555" stroke-width="0.7" />
<line x1="560" y1="52" x2="560" y2="57" stroke="#555" stroke-width="0.7" />
<line x1="611" y1="52" x2="611" y2="57" stroke="#555" stroke-width="0.7" />
<line x1="583" y1="52" x2="583" y2="56.5" stroke="#555" stroke-width="0.7" />
<line x1="700" y1="52" x2="700" y2="57.5" stroke="#555" stroke-width="0.7" />
<path d="M512.75 54.05 L513.05 49.28 L513.35 53.79 L513.65 49.14 L513.95 54.16 L514.25 49.63 L514.55 53.23 L514.85 48.49 L515.15 54.04 L515.45 48.28 L515.75 53.48 L516.05 49.18 L516.35 54.39 L516.65 48.62 L516.95 52.81 L517.25 49.4 L517.55 55.53 L517.85 49.38 L518.15 53.56 L518.45 48.45 L518.75 52.81 L519.05 49.54 L519.35 53.08 L519.65 49.63 L519.95 53 L520.25 48.94 L520.55 53.91 L520.85 49.47 L521.15 54.67 L521.45 48.93 L521.75 54.26 L522.05 49.51 L522.35 54.32 L522.65 49.7 L522.95 53.56 L523.25 49.46 L523.55 56.33 L523.85 49.65 L524.15 53.63 L524.45 48.24 L524.75 53.02 L525.05 48.97 L525.35 52.8 L525.65 49.29 L525.95 52.81 L526.25 48.59 L526.55 53.35 L526.85 49.03 L527.15 55.17 L527.45 49.75 L527.75 54.25 L528.05 50.69 L528.35 54.93 L528.65 50.41 L528.95 55.37 L529.25 51.32 L529.55 56.04 L529.85 51.16 L530.15 55.19 L530.45 51.37 L530.75 56.26 L531.05 52.1 L531.35 57.61 L531.65 52.39 L531.95 56.22 L532.25 51.86 L532.55 55.54 L532.85 51.81 L533.15 55.04 L533.45 50.99 L533.75 55.58 L534.05 50.83 L534.35 54.73 L534.65 49.22 L534.95 54.77 L535.25 49.34 L535.55 54.16 L535.85 49.35 L536.15 53.13 L536.45 48.88 L536.75 54.65 L537.05 49.34 L537.35 53.46 L537.65 47.54 L537.95 52.97 L538.25 48.63 L538.55 53.66 L538.85 48.45 L539.15 55.38 L539.45 47.75 L539.75 52.89 L540.05 48.87 L540.35 52.84 L540.65 48.73 L540.95 52.82 L541.25 49.29 L541.55 53.93 L541.85 48.92 L542.15 52.77 L542.45 48.21 L542.75 53.54 L543.05 48.83 L543.35 53.92 L543.65 49.38 L543.95 54.67 L544.25 48.7 L544.55 52.96 L544.85 49.12 L545.15 54.4 L545.45 48.6 L545.75 52.7 L546.05 48.99 L546.35 52.87 L546.65 47.09 L546.95 53.59 L547.25 47.16 L547.55 53.8 L547.85 48.69 L548.15 53.15 L548.45 49.46 L548.75 55.44 L549.05 49.02 L549.35 52.83 L549.65 47.99 L549.95 52.79 L550.25 47.65 L550.55 53.45 L550.85 49.18 L551.15 53.49 L551.45 48.13 L551.75 53.42 L552.05 49.37 L552.35 54.7 L552.65 48.92 L552.95 53.37 L553.25 49.11 L553.55 53.35 L553.85 49.33 L554.15 53.57 L554.45 49.61 L554.75 53.07 L555.05 49.57 L555.35 53.17 L555.65 48.76 L555.95 53.23 L556.25 49.44 L556.55 54.2 L556.85 47.94 L557.15 54.3 L557.45 49.5 L557.75 53.23 L558.05 48.34 L558.35 52.89 L558.65 49.47 L558.95 55.1 L559.25 49.43 L559.55 53.56 L559.85 47.01 L560.15 54.25 L560.45 49.49 L560.75 54.47 L561.05 49.5 L561.35 54.47 L561.65 45.87 L561.95 53.93 L562.25 49.07 L562.55 52.89 L562.85 47.35 L563.15 52.84 L563.45 47.99 L563.75 53.36 L564.05 47.35 L564.35 53.7 L564.65 48.36 L564.95 54.51 L565.25 48.4 L565.55 54.39 L565.85 48.73 L566.15 53.64 L566.45 48.61 L566.75 53.46 L567.05 48.94 L567.35 54.01 L567.65 48.95 L567.95 54.08 L568.25 48.94 L568.55 54.96 L568.85 49.61 L569.15 52.85 L569.45 48.62 L569.75 52.84 L570.05 48.26 L570.35 54.66 L570.65 48.93 L570.95 54.28 L571.25 48.78 L571.55 54.17 L571.85 49.42 L572.15 53.49 L572.45 49.61 L572.75 53.11 L573.05 48.48 L573.35 54.56 L573.65 48.07 L573.95 52.71 L574.25 49.53 L574.55 53.22 L574.85 48.13 L575.15 52.9 L575.45 49.06 L575.75 54.04 L576.05 48.8 L576.35 54.87 L576.65 48.87 L576.95 53.46 L577.25 48.26 L577.55 53.07 L577.85 48.59 L578.15 53.54 L578.45 47.41 L578.75 53.49 L579.05 48.96 L579.35 53.53 L579.65 49.22 L579.95 53.54 L580.25 48.73 L580.55 53.81 L580.85 47.87 L581.15 53.35 L581.45 47.09 L581.75 52.81 L582.05 49.04 L582.35 53.54 L582.65 49.43 L582.95 52.95 L583.25 48.59 L583.55 53.6 L583.85 48.79 L584.15 53.54 L584.45 47.77 L584.75 53.9 L585.05 49.56 L585.35 52.95 L585.65 49.57 L585.95 52.92 L586.25 49.47 L586.55 53.07 L586.85 48.32 L587.15 53.41 L587.45 47.88 L587.75 53.29 L588.05 49.63 L588.35 52.94 L588.65 49.63 L588.95 53.09 L589.25 48.99 L589.55 52.92 L589.85 49.44 L590.15 53.52 L590.45 48.83 L590.75 53.8 L591.05 48.53 L591.35 53.68 L591.65 47.1 L591.95 52.99 L592.25 49.03 L592.55 53.38 L592.85 49.59 L593.15 53.94 L593.45 49.62 L593.75 52.85 L594.05 49.03 L594.35 52.84 L594.65 48.7 L594.95 53.13 L595.25 48.44 L595.55 54.09 L595.85 48.48 L596.15 54.23 L596.45 48.49 L596.75 53.09 L597.05 49.44 L597.35 54.31 L597.65 48.98 L597.95 53.53 L598.25 48.82 L598.55 54.4 L598.85 47.99 L599.15 53.72 L599.45 48.7 L599.75 54.13 L600.05 48.35 L600.35 53.85 L600.65 49.28 L600.95 53.13 L601.25 49.09 L601.55 53.06 L601.85 47.7 L602.15 53.8 L602.45 48.34 L602.75 53.24 L603.05 47.4 L603.35 55.7 L603.65 49.33 L603.95 54.59 L604.25 49.25 L604.55 53.73 L604.85 47.52 L605.15 53.33 L605.45 48.9 L605.75 53.73 L606.05 49.11 L606.35 54.49 L606.65 49.12 L606.95 52.96 L607.25 49.68 L607.55 52.85 L607.85 49.33 L608.15 52.91 L608.45 49.06 L608.75 53.69 L609.05 48.03 L609.35 53.1 L609.65 49.22 L609.95 54.45 L610.25 49.52 L610.55 53.6 L610.85 48.28 L611.15 53.91 L611.45 49.27 L611.75 53.14 L612.05 49.55 L612.35 52.94 L612.65 48.38 L612.95 53.14 L613.25 47.98 L613.55 53.56 L613.85 48.68 L614.15 53.48 L614.45 48.53 L614.75 53.11 L615.05 48.7 L615.35 54.03 L615.65 47.75 L615.95 53.26 L616.25 47.63 L616.55 54.01 L616.85 49.44 L617.15 53.36 L617.45 49.37 L617.75 53.97 L618.05 49.41 L618.35 52.91 L618.65 49.54 L618.95 54 L619.25 49.45 L619.55 54.3 L619.85 48.54 L620.15 53.88 L620.45 49.21 L620.75 52.85 L621.05 49.32 L621.35 53.8 L621.65 49.43 L621.95 55.1 L622.25 49.03 L622.55 52.85 L622.85 48.46 L623.15 53.52 L623.45 48.86 L623.75 53.65 L624.05 47.54 L624.35 53.65 L624.65 49.56 L624.95 53.25 L625.25 48.28 L625.55 53.22 L625.85 49.44 L626.15 52.74 L626.45 49.47 L626.75 52.97 L627.05 48.96 L627.35 53.07 L627.65 48.81 L627.95 53.64 L628.25 48.49 L628.55 54.11 L628.85 48.61 L629.15 53.64 L629.45 48.78 L629.75 52.7 L630.05 48.97 L630.35 53.86 L630.65 49.48 L630.95 53.51 L631.25 48.9 L631.55 53.34 L631.85 49.58 L632.15 53.14 L632.45 48.21 L632.75 53.57 L633.05 48.67 L633.35 53.6 L633.65 48.48 L633.95 53.2 L634.25 49.07 L634.55 52.82 L634.85 47.7 L635.15 53.48 L635.45 49.15 L635.75 53.69 L636.05 47.42 L636.35 53.48 L636.65 45.84 L636.95 53.15 L637.25 49.32 L637.55 52.82 L637.85 47.93 L638.15 52.73 L638.45 49.2 L638.75 53.27 L639.05 48.7 L639.35 52.84 L639.65 49.15 L639.95 54.07 L640.25 48.74 L640.55 53.43 L640.85 49.62 L641.15 53.7 L641.45 47.49 L641.75 53.23 L642.05 49.59 L642.35 54.55 L642.65 49.63 L642.95 54.37 L643.25 49.67 L643.55 52.86 L643.85 49.31 L644.15 52.94 L644.45 49.51 L644.75 53.95 L645.05 49.28 L645.35 53.26 L645.65 49.44 L645.95 53 L646.25 49.02 L646.55 54.5 L646.85 46.87 L647.15 53.14 L647.45 49.48 L647.75 55.2 L648.05 48.67 L648.35 54.52 L648.65 49.26 L648.95 53.27 L649.25 48.61 L649.55 53.86 L649.85 49.59 L650.15 52.84 L650.45 49.59 L650.75 53.34 L651.05 47.68 L651.35 53.21 L651.65 48.6 L651.95 52.78 L652.25 48.58 L652.55 52.92 L652.85 49.08 L653.15 52.89 L653.45 49.68 L653.75 54.25 L654.05 48.47 L654.35 53.31 L654.65 47.6 L654.95 53.47 L655.25 48.89 L655.55 53.76 L655.85 48.94 L656.15 54.68 L656.45 49.48 L656.75 52.83 L657.05 47.28 L657.35 52.77 L657.65 47.79 L657.95 53.14 L658.25 48.67 L658.55 54.5 L658.85 48.33 L659.15 53.34 L659.45 47.93 L659.75 52.81 L660.05 48.58 L660.35 52.77 L660.65 49.29 L660.95 53.37 L661.25 48.66 L661.55 53.73 L661.85 49.63 L662.15 53.69 L662.45 48.52 L662.75 53 L663.05 47.07 L663.35 53.2 L663.65 48.84 L663.95 53.47 L664.25 48.5 L664.55 53.77 L664.85 49.47 L665.15 54.28 L665.45 49.7 L665.75 53.26 L666.05 47.92 L666.35 52.93 L666.65 49.67 L666.95 54.05 L667.25 48.5 L667.55 52.75 L667.85 48.59 L668.15 53.39 L668.45 49.47 L668.75 53.06 L669.05 49.35 L669.35 52.71 L669.65 47.31 L669.95 53.95 L670.25 49.29 L670.55 54.09 L670.85 49.41 L671.15 54.27 L671.45 49.65 L671.75 52.86 L672.05 49.29 L672.35 54.22 L672.65 48.63 L672.95 55.14 L673.25 48.99 L673.55 53.37 L673.85 48.65 L674.15 53.33 L674.45 48.58 L674.75 52.99 L675.05 49.45 L675.35 53.78 L675.65 49.31 L675.95 54.16 L676.25 49.45 L676.55 53.3 L676.85 49.03 L677.15 53.49 L677.45 48.53 L677.75 53.07 L678.05 47.99 L678.35 52.75 L678.65 49.52 L678.95 52.71 L679.25 49.37 L679.55 53.72 L679.85 48.16 L680.15 54.51 L680.45 48.2 L680.75 52.7 L681.05 49.35 L681.35 55.34 L681.65 49.51 L681.95 54.84 L682.25 48.64 L682.55 53.83 L682.85 49.16 L683.15 53.51 L683.45 49.56 L683.75 55.26 L684.05 49.32 L684.35 52.91 L684.65 48.48 L684.95 54.71 L685.25 49.43 L685.55 53.13 L685.85 49.37 L686.15 53.56 L686.45 48.85 L686.75 52.8 L687.05 49.36 L687.35 53.26 L687.65 49.6 L687.95 54.23 L688.25 49.13 L688.55 53.52 L688.85 49.46 L689.15 53.7 L689.45 49.13 L689.75 52.94 L690.05 48.37 L690.35 55.42 L690.65 49.66 L690.95 52.78 L691.25 48.89 L691.55 54.45 L691.85 48.18 L692.15 53.03 L692.45 48.2 L692.75 53.25 L693.05 49.02 L693.35 53.26 L693.65 48.4 L693.95 54.01 L694.25 48.85 L694.55 52.72 L694.85 48.99 L695.15 52.72 L695.45 46.63 L695.75 54.65 L696.05 48.56 L696.35 53.08 L696.65 49.6 L696.95 52.85 L697.25 48.55 L697.55 53.07 L697.85 49.34 L698.15 53.11 L698.45 49.59 L698.75 54.11 L699.05 48.85 L699.35 54.18 L699.65 49.21 L699.95 53.58 L700.25 48.8 L700.55 52.95 L700.85 48.72 L701.15 52.77 L701.45 47.6 L701.75 53.2 L702.05 49.45 L702.35 53.26 L702.65 48.27 L702.95 52.79 L703.25 48.94 L703.55 53.46 L703.85 49.31 L704.15 53.09 L704.45 48.72 L704.75 54.58 L705.05 46.98 L705.35 53.33 L705.65 48.47 L705.95 52.76 L706.25 47.22 L706.55 53.65 L706.85 49.24 L707.15 54.54 L707.45 48.42 L707.75 53.1 L708.05 49.48 L708.35 53.87 L708.65 49.2 L708.95 53.07 L709.25 48.85 L709.55 52.77 L709.85 49.27 L710.15 53.07 L710.45 48.12 L710.75 53.52 L711.05 49.24 L711.35 52.96 L711.65 48.03 L711.95 52.83 L712.25 49.1 L712.55 53.81 L712.85 48.32 L713.15 53.07 L713.45 49.29 L713.75 53.06 L714.05 48.32 L714.35 54.97 L714.65 48.42 L714.95 53.71 L715.25 49.09 L715.55 53.01 L715.85 48.81 L716.15 53.16 L716.45 48.69 L716.75 54.84 L717.05 48.77 L717.35 52.71 L717.65 48.66 L717.95 53.39 L718.25 48.92 L718.55 53.56 L718.85 49.04 L719.15 53.18 L719.45 48.37 L719.75 53.1 L720.05 48.39 L720.35 53.43 L720.65 48.49 L720.95 53.53 L721.25 48.04 L721.55 53.36 L721.85 49.09 L722.15 54.01 L722.45 49.52 L722.75 54.07 L723.05 49.31 L723.35 54.26 L723.65 49.37 L723.95 52.83 L724.25 49.32 L724.55 54.55 L724.85 49.14 L725.15 53.09 L725.45 49.47 L725.75 52.89 L726.05 47.35 L726.35 54.04 L726.65 48.91 L726.95 53.83 L727.25 48.27 L727.55 53.19 L727.85 49.04 L728.15 53.05 L728.45 47.86 L728.75 54.55 L729.05 49.45 L729.35 53.49 L729.65 49.08 L729.95 54.31 L730.25 49.37 L730.55 54.06 L730.85 49.65 L731.15 53.01 L731.45 48 L731.75 53.67 L732.05 49.12 L732.35 53.45 L732.65 48.25 L732.95 53.91 L733.25 48.11 L733.55 53.86 L733.85 47.71 L734.15 54.22 L734.45 49.29 L734.75 54.41 L735.05 49.44 L735.35 53.07 L735.65 48.61 L735.95 53.24 L736.25 49.4 L736.55 52.89 L736.85 46.33 L737.15 53.17 L737.45 49.23 L737.75 53.03 L738.05 48.59 L738.35 53.46 L738.65 46.89 L738.95 53.58 L739.25 49.36 L739.55 53.89 L739.85 48.65 L740.15 52.81 L740.45 49.02 L740.75 53.83 L741.05 49.23 L741.35 54.78 L741.65 48.49 L741.95 53.21 L742.25 49.58 L742.55 53.01 L742.85 48.99 L743.15 52.86 L743.45 47.96 L743.75 53.35 L744.05 49.26 L744.35 53.05 L744.65 48.88" fill="none" stroke="#000" stroke-width="0.5" stroke-linejoin="round" />
<line x1="530" y1="94" x2="530" y2="105" stroke="#555" stroke-width="0.7" />
<line x1="546.25" y1="94" x2="546.25" y2="106.3" stroke="#555" stroke-width="0.7" />
<line x1="593.75" y1="94" x2="593.75" y2="98" stroke="#555" stroke-width="0.7" />
<line x1="627.5" y1="94" x2="627.5" y2="100.5" stroke="#555" stroke-width="0.7" />
<line x1="655" y1="94" x2="655" y2="103.8" stroke="#555" stroke-width="0.7" />
<line x1="669.25" y1="94" x2="669.25" y2="103.8" stroke="#555" stroke-width="0.7" />
<line x1="692.3" y1="94" x2="692.3" y2="97" stroke="#555" stroke-width="0.7" />
<line x1="709" y1="94" x2="709" y2="98" stroke="#555" stroke-width="0.7" />
<line x1="726.6" y1="94" x2="726.6" y2="100" stroke="#555" stroke-width="0.7" />
<line x1="740.6" y1="94" x2="740.6" y2="99" stroke="#555" stroke-width="0.7" />
<line x1="717.25" y1="94" x2="717.25" y2="113.3" stroke="#555" stroke-width="0.7" />
<line x1="718.2" y1="94" x2="718.2" y2="113.3" stroke="#555" stroke-width="0.7" />
<line x1="565" y1="94" x2="565" y2="97.5" stroke="#555" stroke-width="0.7" />
<line x1="605" y1="94" x2="605" y2="97" stroke="#555" stroke-width="0.7" />
<path d="M512.75 95.47 L513.05 92.86 L513.35 94.77 L513.65 92.71 L513.95 95.18 L514.25 92.96 L514.55 94.76 L514.85 91.92 L515.15 94.9 L515.45 92.24 L515.75 95.42 L516.05 92.68 L516.35 95 L516.65 92.49 L516.95 95.28 L517.25 91.89 L517.55 95.63 L517.85 92.6 L518.15 95.42 L518.45 92.59 L518.75 94.92 L519.05 92.48 L519.35 94.66 L519.65 92.9 L519.95 95.84 L520.25 92.5 L520.55 94.86 L520.85 92.99 L521.15 96.05 L521.45 92.88 L521.75 95.08 L522.05 92.59 L522.35 94.94 L522.65 92.61 L522.95 94.86 L523.25 92.75 L523.55 94.66 L523.85 92.82 L524.15 95.12 L524.45 92.03 L524.75 95.11 L525.05 92.63 L525.35 95.16 L525.65 92.61 L525.95 94.71 L526.25 92.9 L526.55 94.83 L526.85 91.45 L527.15 95.48 L527.45 92.87 L527.75 94.95 L528.05 92.55 L528.35 94.93 L528.65 92.16 L528.95 94.93 L529.25 92.71 L529.55 95.07 L529.85 92.46 L530.15 94.86 L530.45 92.34 L530.75 95.7 L531.05 92.8 L531.35 95.26 L531.65 92.69 L531.95 94.71 L532.25 92.38 L532.55 95.39 L532.85 92.33 L533.15 95.21 L533.45 92.54 L533.75 95 L534.05 92.17 L534.35 95.07 L534.65 92.89 L534.95 95.08 L535.25 92.29 L535.55 95.23 L535.85 92.79 L536.15 94.73 L536.45 92.53 L536.75 96.1 L537.05 92.77 L537.35 96.09 L537.65 92.82 L537.95 95.27 L538.25 91.82 L538.55 94.86 L538.85 92.71 L539.15 94.61 L539.45 91.68 L539.75 95.07 L540.05 92.98 L540.35 94.67 L540.65 92.46 L540.95 94.6 L541.25 92.92 L541.55 95.41 L541.85 92.79 L542.15 96.75 L542.45 92.78 L542.75 94.73 L543.05 93 L543.35 95.06 L543.65 92.05 L543.95 95.02 L544.25 92.25 L544.55 94.69 L544.85 92.27 L545.15 95.43 L545.45 92.88 L545.75 94.72 L546.05 91.55 L546.35 94.88 L546.65 92.78 L546.95 94.91 L547.25 91.82 L547.55 94.85 L547.85 91.58 L548.15 95.52 L548.45 92.91 L548.75 94.72 L549.05 92.6 L549.35 94.7 L549.65 92.55 L549.95 94.98 L550.25 92.16 L550.55 95.45 L550.85 92.08 L551.15 94.99 L551.45 92.79 L551.75 96.14 L552.05 92.34 L552.35 95.38 L552.65 92.69 L552.95 95.94 L553.25 92.26 L553.55 94.64 L553.85 92.38 L554.15 95.7 L554.45 92.32 L554.75 94.79 L555.05 92.23 L555.35 94.93 L555.65 92.53 L555.95 94.67 L556.25 92.23 L556.55 95.54 L556.85 92.9 L557.15 95.48 L557.45 92.39 L557.75 95.65 L558.05 92.21 L558.35 95.63 L558.65 92.77 L558.95 94.8 L559.25 92.81 L559.55 94.91 L559.85 92.59 L560.15 95.44 L560.45 92.63 L560.75 95.41 L561.05 92.78 L561.35 95.13 L561.65 92.48 L561.95 94.78 L562.25 92.43 L562.55 94.62 L562.85 92.39 L563.15 95.01 L563.45 92.18 L563.75 94.76 L564.05 92.8 L564.35 94.95 L564.65 92.14 L564.95 94.65 L565.25 92.12 L565.55 95.12 L565.85 92.77 L566.15 95.28 L566.45 92.87 L566.75 94.95 L567.05 92.87 L567.35 94.87 L567.65 92.52 L567.95 94.64 L568.25 92.47 L568.55 94.67 L568.85 92.97 L569.15 94.91 L569.45 92.63 L569.75 94.79 L570.05 92.39 L570.35 94.85 L570.65 91.68 L570.95 95.53 L571.25 92.99 L571.55 94.95 L571.85 92.43 L572.15 95.51 L572.45 92.28 L572.75 94.6 L573.05 92.33 L573.35 95.29 L573.65 92.1 L573.95 94.71 L574.25 92.26 L574.55 94.64 L574.85 92.4 L575.15 95.01 L575.45 92.22 L575.75 95.35 L576.05 92.87 L576.35 94.83 L576.65 92.49 L576.95 94.66 L577.25 92.47 L577.55 95.17 L577.85 93 L578.15 94.71 L578.45 92.7 L578.75 94.71 L579.05 92.26 L579.35 94.6 L579.65 92.82 L579.95 94.76 L580.25 92.54 L580.55 95.35 L580.85 92.68 L581.15 95.53 L581.45 92.22 L581.75 95.02 L582.05 92.68 L582.35 95.2 L582.65 92.39 L582.95 95.05 L583.25 92.31 L583.55 94.73 L583.85 92.4 L584.15 94.95 L584.45 92.68 L584.75 95.09 L585.05 92.68 L585.35 95.05 L585.65 92.6 L585.95 94.73 L586.25 92.66 L586.55 94.73 L586.85 92.56 L587.15 95.32 L587.45 92.87 L587.75 95.68 L588.05 92.63 L588.35 95.38 L588.65 92.21 L588.95 95.22 L589.25 92.24 L589.55 94.71 L589.85 92.69 L590.15 95.35 L590.45 92.15 L590.75 94.9 L591.05 91.8 L591.35 95.11 L591.65 92.92 L591.95 94.97 L592.25 92.97 L592.55 95.09 L592.85 92.19 L593.15 94.71 L593.45 92.63 L593.75 94.81 L594.05 92.53 L594.35 95.13 L594.65 92.38 L594.95 95.33 L595.25 92.45 L595.55 95.24 L595.85 92.85 L596.15 95.46 L596.45 92.85 L596.75 94.82 L597.05 92.32 L597.35 95.04 L597.65 92.49 L597.95 95 L598.25 92.56 L598.55 95.22 L598.85 92.63 L599.15 94.71 L599.45 92.53 L599.75 95.22 L600.05 92.68 L600.35 95.17 L600.65 92.28 L600.95 95.47 L601.25 92.75 L601.55 95.15 L601.85 92.73 L602.15 95.38 L602.45 92.37 L602.75 94.77 L603.05 92.73 L603.35 94.87 L603.65 92.89 L603.95 94.78 L604.25 92.9 L604.55 95.05 L604.85 92.98 L605.15 95.29 L605.45 92.4 L605.75 95.76 L606.05 91.96 L606.35 95.56 L606.65 92.76 L606.95 94.74 L607.25 92.96 L607.55 94.79 L607.85 91.64 L608.15 95 L608.45 92.94 L608.75 94.63 L609.05 92.37 L609.35 95.1 L609.65 92.86 L609.95 94.61 L610.25 92.74 L610.55 95.76 L610.85 92.08 L611.15 95.62 L611.45 92.91 L611.75 95.12 L612.05 92.77 L612.35 95.01 L612.65 91.7 L612.95 95.32 L613.25 92.47 L613.55 95.03 L613.85 92.97 L614.15 95.57 L614.45 92.89 L614.75 95.06 L615.05 92.1 L615.35 94.91 L615.65 92.5 L615.95 95.78 L616.25 91.62 L616.55 94.99 L616.85 92.96 L617.15 95.13 L617.45 92.48 L617.75 94.88 L618.05 92.67 L618.35 95.22 L618.65 92.46 L618.95 95.12 L619.25 92.46 L619.55 95.55 L619.85 92.71 L620.15 94.61 L620.45 92.38 L620.75 95.38 L621.05 92.41 L621.35 94.85 L621.65 92.73 L621.95 95.37 L622.25 92.76 L622.55 95.12 L622.85 92.73 L623.15 94.81 L623.45 92.48 L623.75 95.14 L624.05 92.99 L624.35 95.27 L624.65 92.99 L624.95 94.88 L625.25 92.46 L625.55 94.75 L625.85 92.49 L626.15 94.97 L626.45 92.59 L626.75 95.07 L627.05 92.81 L627.35 95.03 L627.65 92.24 L627.95 95.18 L628.25 92.57 L628.55 94.74 L628.85 92.81 L629.15 94.73 L629.45 92.76 L629.75 94.6 L630.05 91.91 L630.35 95.5 L630.65 92.94 L630.95 94.9 L631.25 92.43 L631.55 94.83 L631.85 91.87 L632.15 94.64 L632.45 92.61 L632.75 95.15 L633.05 92.35 L633.35 95.18 L633.65 92.63 L633.95 95.24 L634.25 92.83 L634.55 95.15 L634.85 92.77 L635.15 95.15 L635.45 92.88 L635.75 94.82 L636.05 92.02 L636.35 94.65 L636.65 92.27 L636.95 94.7 L637.25 92.3 L637.55 95.03 L637.85 92.29 L638.15 94.72 L638.45 92.45 L638.75 94.65 L639.05 92.87 L639.35 95.42 L639.65 92.33 L639.95 95.81 L640.25 92 L640.55 94.88 L640.85 92.8 L641.15 94.92 L641.45 92.46 L641.75 94.78 L642.05 92.57 L642.35 94.77 L642.65 92.9 L642.95 94.88 L643.25 92.91 L643.55 94.72 L643.85 92.67 L644.15 95.42 L644.45 92.21 L644.75 95.11 L645.05 92.52 L645.35 95.72 L645.65 92.17 L645.95 94.86 L646.25 92.66 L646.55 95.44 L646.85 91.99 L647.15 95.27 L647.45 92.69 L647.75 94.86 L648.05 92.71 L648.35 95.46 L648.65 92.46 L648.95 95.61 L649.25 92.66 L649.55 94.65 L649.85 92.26 L650.15 94.84 L650.45 92.84 L650.75 94.88 L651.05 92.74 L651.35 95.2 L651.65 92.02 L651.95 95 L652.25 92.49 L652.55 95.29 L652.85 92.91 L653.15 94.98 L653.45 92.53 L653.75 95.79 L654.05 92.37 L654.35 95.36 L654.65 92.89 L654.95 95.3 L655.25 91.93 L655.55 95.32 L655.85 92.77 L656.15 94.93 L656.45 92.53 L656.75 94.71 L657.05 92.92 L657.35 94.81 L657.65 92.3 L657.95 95.91 L658.25 91.73 L658.55 94.72 L658.85 92.4 L659.15 94.9 L659.45 92.05 L659.75 95.63 L660.05 92.84 L660.35 95.13 L660.65 91.91 L660.95 94.93 L661.25 92.54 L661.55 94.66 L661.85 92.76 L662.15 94.73 L662.45 92.88 L662.75 94.93 L663.05 92.95 L663.35 94.86 L663.65 92.81 L663.95 95.32 L664.25 92.84 L664.55 95.1 L664.85 91.99 L665.15 95.66 L665.45 91.72 L665.75 94.7 L666.05 92.4 L666.35 94.86 L666.65 92.59 L666.95 95.45 L667.25 92.61 L667.55 94.61 L667.85 91.88 L668.15 94.6 L668.45 92.51 L668.75 94.62 L669.05 92.36 L669.35 94.66 L669.65 92.89 L669.95 95.01 L670.25 92.61 L670.55 95.18 L670.85 92.61 L671.15 95.06 L671.45 92.73 L671.75 95.28 L672.05 92.7 L672.35 96.34 L672.65 92.67 L672.95 95.02 L673.25 92.72 L673.55 94.96 L673.85 92.62 L674.15 94.79 L674.45 92.92 L674.75 95.18 L675.05 91.73 L675.35 95.1 L675.65 92.2 L675.95 94.69 L676.25 92.71 L676.55 94.81 L676.85 92.94 L677.15 94.89 L677.45 92.43 L677.75 94.98 L678.05 92.18 L678.35 95.64 L678.65 92.99 L678.95 95.82 L679.25 92.49 L679.55 94.68 L679.85 92.82 L680.15 95.8 L680.45 92.69 L680.75 94.97 L681.05 92.42 L681.35 94.72 L681.65 92.6 L681.95 94.84 L682.25 92.89 L682.55 95.87 L682.85 92.83 L683.15 95.26 L683.45 92.7 L683.75 94.91 L684.05 92.4 L684.35 94.75 L684.65 92.07 L684.95 95.75 L685.25 92.89 L685.55 94.95 L685.85 92.28 L686.15 94.93 L686.45 92.41 L686.75 94.93 L687.05 92.89 L687.35 94.78 L687.65 92.41 L687.95 94.98 L688.25 92.25 L688.55 95.44 L688.85 91.43 L689.15 94.89 L689.45 92.34 L689.75 95.15 L690.05 92.76 L690.35 95.07 L690.65 91.53 L690.95 95.34 L691.25 92.55 L691.55 94.8 L691.85 92.73 L692.15 94.95 L692.45 92.91 L692.75 94.96 L693.05 92.29 L693.35 94.81 L693.65 92.62 L693.95 94.68 L694.25 92.31 L694.55 94.87 L694.85 92.77 L695.15 95.8 L695.45 92.25 L695.75 95.32 L696.05 92.42 L696.35 94.92 L696.65 92.88 L696.95 95.3 L697.25 92.9 L697.55 94.88 L697.85 92.82 L698.15 94.72 L698.45 92.25 L698.75 94.62 L699.05 91.81 L699.35 94.62 L699.65 92.76 L699.95 94.85 L700.25 92.59 L700.55 95.77 L700.85 92.6 L701.15 94.91 L701.45 92.45 L701.75 95.69 L702.05 92.71 L702.35 94.88 L702.65 92.71 L702.95 95.7 L703.25 92.53 L703.55 94.69 L703.85 92.8 L704.15 94.66 L704.45 92.96 L704.75 94.63 L705.05 92.67 L705.35 94.72 L705.65 92.61 L705.95 95.85 L706.25 92.49 L706.55 95 L706.85 92.37 L707.15 94.92 L707.45 92.8 L707.75 94.9 L708.05 91.98 L708.35 94.72 L708.65 92.93 L708.95 95.37 L709.25 91.69 L709.55 94.74 L709.85 92.8 L710.15 94.73 L710.45 91.75 L710.75 94.68 L711.05 92.04 L711.35 95.24 L711.65 92.4 L711.95 94.99 L712.25 92.3 L712.55 94.66 L712.85 91.77 L713.15 96.2 L713.45 92.32 L713.75 95.82 L714.05 92.19 L714.35 96.46 L714.65 91.88 L714.95 94.98 L715.25 92.7 L715.55 95.01 L715.85 91.82 L716.15 94.64 L716.45 91.97 L716.75 94.65 L717.05 92.99 L717.35 94.66 L717.65 92.96 L717.95 94.79 L718.25 91.62 L718.55 95.11 L718.85 91.92 L719.15 95.12 L719.45 92.7 L719.75 94.89 L720.05 92.17 L720.35 94.69 L720.65 92.75 L720.95 94.87 L721.25 92.77 L721.55 95.46 L721.85 92.69 L722.15 94.64 L722.45 91.88 L722.75 94.79 L723.05 92.53 L723.35 94.63 L723.65 92.82 L723.95 94.97 L724.25 92.63 L724.55 95.01 L724.85 92.67 L725.15 94.68 L725.45 92.64 L725.75 94.75 L726.05 92.83 L726.35 95.17 L726.65 92.39 L726.95 94.67 L727.25 93 L727.55 95.15 L727.85 92.87 L728.15 94.8 L728.45 92.49 L728.75 95.09 L729.05 92.6 L729.35 94.62 L729.65 92.79 L729.95 95.51 L730.25 91.97 L730.55 94.94 L730.85 91.32 L731.15 94.98 L731.45 92.1 L731.75 94.64 L732.05 92.72 L732.35 95.51 L732.65 92.91 L732.95 94.66 L733.25 92.67 L733.55 94.79 L733.85 92.28 L734.15 94.95 L734.45 92.78 L734.75 95.42 L735.05 92.83 L735.35 94.81 L735.65 92.87 L735.95 94.6 L736.25 92.44 L736.55 94.92 L736.85 92.96 L737.15 94.91 L737.45 92.37 L737.75 94.95 L738.05 92.83 L738.35 94.98 L738.65 92.47 L738.95 94.76 L739.25 92.86 L739.55 94.79 L739.85 92.97 L740.15 94.7 L740.45 91.98 L740.75 95.01 L741.05 91.58 L741.35 94.92 L741.65 92.46 L741.95 94.8 L742.25 92.88 L742.55 94.71 L742.85 92.87 L743.15 95.5 L743.45 92.9 L743.75 94.81 L744.05 92.98 L744.35 95.81 L744.65 92.04" fill="none" stroke="#000" stroke-width="0.5" stroke-linejoin="round" />
<rect x="519.8" y="135" width="1.2" height="18" fill="#888" opacity="0.45"/>
<rect x="527" y="135" width="4.8" height="18" fill="#888" opacity="0.45"/>
<rect x="532.3" y="135" width="2.6" height="18" fill="#888" opacity="0.45"/>
<rect x="557.7" y="135" width="4.1" height="18" fill="#888" opacity="0.45"/>
<rect x="611.4" y="135" width="3.1" height="18" fill="#888" opacity="0.45"/>
<rect x="635.8" y="135" width="7.2" height="18" fill="#888" opacity="0.45"/>
<rect x="660" y="135" width="3.4" height="18" fill="#888" opacity="0.45"/>
<rect x="673.7" y="135" width="3.4" height="18" fill="#888" opacity="0.45"/>
<rect x="699.3" y="135" width="4" height="18" fill="#888" opacity="0.45"/>
<rect x="723.9" y="135" width="4.5" height="18" fill="#888" opacity="0.45"/>
<rect x="729.6" y="135" width="5.7" height="18" fill="#888" opacity="0.45"/>
<path d="M512.75 135.44 L513 133.28 L513.25 136.31 L513.5 132.54 L513.75 135.45 L514 133.01 L514.25 135.74 L514.5 132.29 L514.75 135.71 L515 132.9 L515.25 152.72 L515.5 152.73 L515.75 153.94 L516 153.04 L516.25 152.53 L516.5 153.49 L516.75 153.92 L517 152.84 L517.25 153.2 L517.5 152.67 L517.75 152.42 L518 153.14 L518.25 152.75 L518.5 152.75 L518.75 153.22 L519 153.37 L519.25 153.13 L519.5 153.72 L519.75 152.96 L520 153.08 L520.25 135.94 L520.5 131.71 L520.75 136.74 L521 132.61 L521.25 135.43 L521.5 132.39 L521.75 136.36 L522 133.27 L522.25 136.95 L522.5 144.3 L522.75 136.64 L523 132.49 L523.25 135.45 L523.5 132.95 L523.75 135.44 L524 133.26 L524.25 135.54 L524.5 132.08 L524.75 135.35 L525 132.96 L525.25 136.14 L525.5 153.73 L525.75 153.15 L526 152.4 L526.25 136.45 L526.5 133.07 L526.75 135.37 L527 133.19 L527.25 154 L527.5 153.23 L527.75 135.76 L528 132.88 L528.25 135.74 L528.5 153.46 L528.75 135.74 L529 132.61 L529.25 135.75 L529.5 153.28 L529.75 153.43 L530 133.07 L530.25 135.52 L530.5 133.07 L530.75 153.02 L531 153.31 L531.25 135.57 L531.5 152.72 L531.75 152.65 L532 133.05 L532.25 135.31 L532.5 133.15 L532.75 135.86 L533 153.37 L533.25 153 L533.5 132.89 L533.75 135.76 L534 132.06 L534.25 136.06 L534.5 149.44 L534.75 135.72 L535 132.92 L535.25 135.38 L535.5 132.81 L535.75 135.7 L536 133.19 L536.25 135.94 L536.5 145.59 L536.75 146.43 L537 132.05 L537.25 136.37 L537.5 131.92 L537.75 135.92 L538 132.19 L538.25 135.8 L538.5 133.17 L538.75 139.62 L539 132.49 L539.25 135.47 L539.5 132.63 L539.75 135.5 L540 133.1 L540.25 135.62 L540.5 132.98 L540.75 135.75 L541 131.92 L541.25 136.46 L541.5 132.75 L541.75 135.54 L542 132.19 L542.25 136.12 L542.5 142.44 L542.75 135.4 L543 132.27 L543.25 136.5 L543.5 132.92 L543.75 135.96 L544 133.06 L544.25 136.27 L544.5 132.6 L544.75 135.57 L545 132.89 L545.25 153.43 L545.5 153.25 L545.75 152.86 L546 132.77 L546.25 135.63 L546.5 132.64 L546.75 135.32 L547 132.98 L547.25 135.86 L547.5 132.66 L547.75 136.59 L548 132.41 L548.25 135.58 L548.5 133.17 L548.75 136.84 L549 131.73 L549.25 135.99 L549.5 132.79 L549.75 135.99 L550 132.67 L550.25 135.87 L550.5 131.12 L550.75 136.13 L551 142.09 L551.25 135.62 L551.5 132.49 L551.75 135.85 L552 133.15 L552.25 136.8 L552.5 132.9 L552.75 135.35 L553 132.77 L553.25 135.77 L553.5 145.44 L553.75 144.45 L554 132.06 L554.25 136.59 L554.5 132.68 L554.75 135.45 L555 132.87 L555.25 147.77 L555.5 148.7 L555.75 135.32 L556 132.35 L556.25 136.42 L556.5 132.12 L556.75 135.51 L557 133.02 L557.25 135.9 L557.5 133.18 L557.75 135.84 L558 149.33 L558.25 149.68 L558.5 132.39 L558.75 136.25 L559 132.4 L559.25 135.78 L559.5 151.82 L559.75 135.64 L560 132.83 L560.25 136.23 L560.5 132.49 L560.75 135.44 L561 153.14 L561.25 153.17 L561.5 153.06 L561.75 152.9 L562 153.37 L562.25 153.55 L562.5 152.96 L562.75 152.83 L563 133.26 L563.25 135.32 L563.5 132.78 L563.75 135.41 L564 133.25 L564.25 136.39 L564.5 132.94 L564.75 135.56 L565 132.82 L565.25 143.91 L565.5 143.74 L565.75 135.87 L566 133.04 L566.25 136.07 L566.5 131.69 L566.75 135.38 L567 132.94 L567.25 135.86 L567.5 132.16 L567.75 135.71 L568 132.87 L568.25 153.1 L568.5 153.54 L568.75 135.81 L569 132.98 L569.25 135.51 L569.5 133.16 L569.75 136.2 L570 133.1 L570.25 135.9 L570.5 132.03 L570.75 136.22 L571 152.94 L571.25 153 L571.5 153.33 L571.75 152.97 L572 152.97 L572.25 153.45 L572.5 153.62 L572.75 153.38 L573 153.74 L573.25 153.2 L573.5 153.14 L573.75 153.02 L574 153.01 L574.25 152.87 L574.5 153.75 L574.75 153.54 L575 153.12 L575.25 153.21 L575.5 152.83 L575.75 153.43 L576 153.11 L576.25 153.12 L576.5 133.05 L576.75 136.37 L577 132.88 L577.25 136.32 L577.5 147.18 L577.75 147.15 L578 133.08 L578.25 135.99 L578.5 132.56 L578.75 136.15 L579 132.59 L579.25 135.35 L579.5 131.65 L579.75 136.34 L580 132.32 L580.25 135.34 L580.5 152.81 L580.75 153.32 L581 152.84 L581.25 153.59 L581.5 152.48 L581.75 153.9 L582 152.67 L582.25 153.03 L582.5 152.76 L582.75 135.54 L583 132.33 L583.25 135.82 L583.5 132.89 L583.75 135.59 L584 132.16 L584.25 135.7 L584.5 133.04 L584.75 135.52 L585 133.04 L585.25 136.55 L585.5 132.88 L585.75 135.32 L586 153.91 L586.25 153.46 L586.5 133.16 L586.75 136.43 L587 132.96 L587.25 136.37 L587.5 133.26 L587.75 135.73 L588 132.77 L588.25 135.34 L588.5 133.29 L588.75 135.5 L589 143.16 L589.25 142.66 L589.5 142.58 L589.75 142.85 L590 144.03 L590.25 142.56 L590.5 142.47 L590.75 142.94 L591 142.18 L591.25 135.67 L591.5 132.48 L591.75 135.54 L592 133.09 L592.25 135.93 L592.5 133 L592.75 135.33 L593 132.63 L593.25 135.67 L593.5 132.97 L593.75 135.78 L594 132.89 L594.25 135.37 L594.5 133.17 L594.75 136.05 L595 132.84 L595.25 142.77 L595.5 133.16 L595.75 135.67 L596 132.59 L596.25 137.12 L596.5 132.64 L596.75 136.28 L597 132.57 L597.25 135.59 L597.5 153.21 L597.75 152.61 L598 132.55 L598.25 135.49 L598.5 132.2 L598.75 135.98 L599 133.25 L599.25 138.75 L599.5 132.06 L599.75 136.56 L600 132.65 L600.25 135.75 L600.5 132.84 L600.75 136 L601 132.63 L601.25 135.74 L601.5 145.72 L601.75 135.63 L602 132.96 L602.25 135.7 L602.5 132.37 L602.75 135.39 L603 133.08 L603.25 135.8 L603.5 131.68 L603.75 135.47 L604 132.25 L604.25 139.94 L604.5 133.05 L604.75 135.81 L605 132.44 L605.25 136.51 L605.5 132.83 L605.75 135.93 L606 132.31 L606.25 135.95 L606.5 132.64 L606.75 135.36 L607 132.89 L607.25 136.11 L607.5 132.28 L607.75 136.35 L608 131.93 L608.25 135.56 L608.5 132.64 L608.75 135.59 L609 144.14 L609.25 136.57 L609.5 132.57 L609.75 135.38 L610 133.3 L610.25 136.75 L610.5 132.79 L610.75 136.26 L611 132.38 L611.25 135.73 L611.5 133.1 L611.75 153.26 L612 152.77 L612.25 136.05 L612.5 131.68 L612.75 136.1 L613 153.25 L613.25 153.66 L613.5 132.57 L613.75 135.73 L614 152.99 L614.25 152.17 L614.5 132.58 L614.75 135.8 L615 132.75 L615.25 135.71 L615.5 133.28 L615.75 135.47 L616 132.15 L616.25 135.4 L616.5 131.18 L616.75 135.37 L617 139.93 L617.25 136.75 L617.5 133.21 L617.75 135.47 L618 133.28 L618.25 135.5 L618.5 145.12 L618.75 145.63 L619 133.02 L619.25 136.56 L619.5 133.14 L619.75 135.36 L620 132.87 L620.25 135.67 L620.5 132.62 L620.75 137.34 L621 132.76 L621.25 135.34 L621.5 149.41 L621.75 149.26 L622 149.27 L622.25 149.74 L622.5 132.66 L622.75 136.53 L623 132.38 L623.25 135.69 L623.5 133.13 L623.75 136.41 L624 132.83 L624.25 136.48 L624.5 144.84 L624.75 144.31 L625 133.04 L625.25 135.37 L625.5 132.63 L625.75 136 L626 133.28 L626.25 135.42 L626.5 133.06 L626.75 136.2 L627 133.08 L627.25 135.9 L627.5 131.92 L627.75 136.53 L628 132.01 L628.25 135.5 L628.5 132.64 L628.75 139.13 L629 133.05 L629.25 135.39 L629.5 133.17 L629.75 135.83 L630 132.9 L630.25 135.6 L630.5 133.28 L630.75 153.03 L631 153.46 L631.25 135.66 L631.5 132.72 L631.75 135.79 L632 133.02 L632.25 136.27 L632.5 131.88 L632.75 148.12 L633 146.8 L633.25 147.64 L633.5 147.63 L633.75 147.41 L634 147.19 L634.25 135.54 L634.5 133.11 L634.75 135.57 L635 132.76 L635.25 136.39 L635.5 131.49 L635.75 135.91 L636 153.82 L636.25 152.53 L636.5 152.75 L636.75 136.86 L637 133.22 L637.25 136.08 L637.5 153.68 L637.75 153.26 L638 152.81 L638.25 153.86 L638.5 153.33 L638.75 136.12 L639 132.45 L639.25 135.34 L639.5 132.16 L639.75 154.12 L640 153.46 L640.25 153.56 L640.5 133.12 L640.75 135.67 L641 131.69 L641.25 135.88 L641.5 153.35 L641.75 152.64 L642 152.78 L642.25 152.67 L642.5 153.52 L642.75 153.57 L643 153.09 L643.25 135.62 L643.5 133.09 L643.75 136.4 L644 132.57 L644.25 135.77 L644.5 132.98 L644.75 135.42 L645 132.64 L645.25 135.86 L645.5 132.84 L645.75 139.04 L646 132.36 L646.25 135.4 L646.5 132.76 L646.75 136.8 L647 132.97 L647.25 143.71 L647.5 144 L647.75 143.83 L648 143.23 L648.25 136.67 L648.5 132.01 L648.75 135.6 L649 132.36 L649.25 135.39 L649.5 143.55 L649.75 142.42 L650 143.22 L650.25 142.98 L650.5 142.21 L650.75 142.68 L651 143.12 L651.25 136.04 L651.5 132.87 L651.75 135.36 L652 133.04 L652.25 135.35 L652.5 153.21 L652.75 153.28 L653 152.97 L653.25 153.21 L653.5 152.76 L653.75 153.75 L654 153.04 L654.25 153.3 L654.5 153.05 L654.75 153.51 L655 152.96 L655.25 153.96 L655.5 153.41 L655.75 153.26 L656 153.78 L656.25 153.63 L656.5 153.25 L656.75 152.77 L657 153.29 L657.25 153.35 L657.5 152.91 L657.75 153.4 L658 153.08 L658.25 153.52 L658.5 153.13 L658.75 152.8 L659 152.37 L659.25 152.87 L659.5 152.49 L659.75 136.86 L660 132.35 L660.25 136.32 L660.5 133.03 L660.75 135.84 L661 132.23 L661.25 135.44 L661.5 132.35 L661.75 144.03 L662 143.73 L662.25 144.36 L662.5 143.36 L662.75 143.91 L663 144.17 L663.25 143.54 L663.5 133.14 L663.75 136.13 L664 132.2 L664.25 135.3 L664.5 133.11 L664.75 135.5 L665 131.71 L665.25 135.62 L665.5 131.71 L665.75 136.36 L666 133.03 L666.25 135.33 L666.5 132.71 L666.75 135.38 L667 132.7 L667.25 135.36 L667.5 132.68 L667.75 135.37 L668 153.3 L668.25 153.39 L668.5 153.46 L668.75 153.22 L669 153.28 L669.25 153.13 L669.5 152.46 L669.75 152.89 L670 153.75 L670.25 153.27 L670.5 153.13 L670.75 152.72 L671 152.96 L671.25 153.6 L671.5 131.97 L671.75 135.59 L672 132.48 L672.25 136.59 L672.5 133 L672.75 136.64 L673 132.8 L673.25 135.89 L673.5 133.21 L673.75 135.35 L674 151.81 L674.25 151.91 L674.5 132.52 L674.75 136.55 L675 132.49 L675.25 136.49 L675.5 132.94 L675.75 149.65 L676 149.61 L676.25 136.44 L676.5 132.08 L676.75 135.77 L677 132.83 L677.25 135.58 L677.5 141.74 L677.75 135.95 L678 132.89 L678.25 136.22 L678.5 133.01 L678.75 136.08 L679 132.67 L679.25 135.65 L679.5 133.06 L679.75 135.85 L680 133.29 L680.25 135.77 L680.5 133.15 L680.75 135.37 L681 153.19 L681.25 153.01 L681.5 153.75 L681.75 152.61 L682 153.2 L682.25 152.71 L682.5 152.95 L682.75 153.16 L683 131.71 L683.25 135.4 L683.5 133.16 L683.75 135.52 L684 132.93 L684.25 136.17 L684.5 132.79 L684.75 138.81 L685 133.04 L685.25 135.54 L685.5 132.49 L685.75 135.63 L686 145.23 L686.25 145.31 L686.5 144.46 L686.75 146.01 L687 145.8 L687.25 145.83 L687.5 144.94 L687.75 145.99 L688 145.54 L688.25 145.64 L688.5 146.23 L688.75 135.89 L689 132.19 L689.25 135.66 L689.5 133.22 L689.75 135.47 L690 132.79 L690.25 135.34 L690.5 133.29 L690.75 135.67 L691 132.73 L691.25 143.56 L691.5 133.09 L691.75 136.29 L692 133.23 L692.25 135.81 L692.5 132.15 L692.75 135.91 L693 132.18 L693.25 136.1 L693.5 132.96 L693.75 135.83 L694 143.25 L694.25 143.67 L694.5 144.55 L694.75 143.86 L695 144.05 L695.25 143.95 L695.5 143.36 L695.75 144.24 L696 144.45 L696.25 143.69 L696.5 143.71 L696.75 135.66 L697 132.77 L697.25 135.51 L697.5 132.2 L697.75 135.34 L698 133.01 L698.25 138.52 L698.5 132.59 L698.75 136.74 L699 133.09 L699.25 135.86 L699.5 132.05 L699.75 153.03 L700 153.49 L700.25 135.69 L700.5 132.61 L700.75 135.71 L701 133.08 L701.25 150.45 L701.5 150.93 L701.75 135.3 L702 133.23 L702.25 136.28 L702.5 133.15 L702.75 154.36 L703 153.61 L703.25 135.51 L703.5 132.43 L703.75 136.29 L704 133.19 L704.25 136.03 L704.5 132.74 L704.75 135.95 L705 153.18 L705.25 153.06 L705.5 133.25 L705.75 135.69 L706 132.97 L706.25 135.34 L706.5 132.9 L706.75 135.3 L707 152.76 L707.25 152.78 L707.5 152.97 L707.75 135.86 L708 132.95 L708.25 135.37 L708.5 132.11 L708.75 135.36 L709 152.97 L709.25 153.43 L709.5 153.49 L709.75 153.3 L710 152.87 L710.25 153.26 L710.5 153.62 L710.75 152.64 L711 153.2 L711.25 153.03 L711.5 132.66 L711.75 136.47 L712 133.18 L712.25 135.46 L712.5 132.48 L712.75 144.03 L713 131.7 L713.25 135.4 L713.5 131.71 L713.75 135.4 L714 132.81 L714.25 135.64 L714.5 132.78 L714.75 135.69 L715 132.72 L715.25 135.59 L715.5 133.12 L715.75 136.05 L716 152.76 L716.25 153.24 L716.5 153.41 L716.75 153.45 L717 153.26 L717.25 136.27 L717.5 133.19 L717.75 136.5 L718 152.92 L718.25 153.37 L718.5 153.46 L718.75 153.25 L719 153.34 L719.25 153.69 L719.5 153.29 L719.75 137.15 L720 132.76 L720.25 135.82 L720.5 153.25 L720.75 152.73 L721 153.84 L721.25 153.55 L721.5 153.46 L721.75 136.16 L722 132.43 L722.25 135.66 L722.5 132.53 L722.75 138.25 L723 132.97 L723.25 135.98 L723.5 132.5 L723.75 135.72 L724 132.83 L724.25 152.04 L724.5 151.77 L724.75 135.63 L725 132.43 L725.25 135.61 L725.5 132.4 L725.75 135.46 L726 149.11 L726.25 149.28 L726.5 132.88 L726.75 135.6 L727 132.17 L727.25 136.41 L727.5 133.06 L727.75 151.28 L728 151.25 L728.25 135.41 L728.5 132.83 L728.75 135.78 L729 132.07 L729.25 135.5 L729.5 131.72 L729.75 153.34 L730 153.6 L730.25 153.39 L730.5 152.94 L730.75 153.28 L731 153.11 L731.25 135.65 L731.5 132 L731.75 135.5 L732 133 L732.25 136.16 L732.5 133.25 L732.75 136.9 L733 149.59 L733.25 150.33 L733.5 149.56 L733.75 149.22 L734 148.87 L734.25 149.21 L734.5 149.64 L734.75 148.43 L735 149.46 L735.25 149.8 L735.5 132.85 L735.75 136.78 L736 132.15 L736.25 141 L736.5 131.66 L736.75 135.53 L737 132.59 L737.25 135.48 L737.5 133.22 L737.75 135.3 L738 133.18 L738.25 135.49 L738.5 133.18 L738.75 136.49 L739 132.91 L739.25 135.58 L739.5 132.36 L739.75 135.7 L740 153.44 L740.25 152.86 L740.5 153.3 L740.75 152.63 L741 153.15 L741.25 153.97 L741.5 153.7 L741.75 153.76 L742 153.79 L742.25 135.36 L742.5 133.29 L742.75 135.91 L743 133.15 L743.25 136.23 L743.5 132.54 L743.75 136.14 L744 132.83 L744.25 135.84 L744.5 132.71 L744.75 135.7" fill="none" stroke="#000" stroke-width="0.55" stroke-linejoin="round" />
<rect x="522.5" y="175" width="1.1" height="17" fill="#666" opacity="0.55"/>
<line x1="523" y1="175" x2="523" y2="192" stroke="#111" stroke-width="0.5" />
<rect x="571.5" y="175" width="1.5" height="17" fill="#666" opacity="0.55"/>
<line x1="572" y1="175" x2="572" y2="192" stroke="#111" stroke-width="0.5" />
<rect x="601" y="175" width="2.8" height="17" fill="#666" opacity="0.55"/>
<line x1="601.5" y1="175" x2="601.5" y2="192" stroke="#111" stroke-width="0.5" />
<line x1="602.53" y1="175" x2="602.53" y2="192" stroke="#111" stroke-width="0.5" />
<line x1="603.22" y1="175" x2="603.22" y2="192" stroke="#111" stroke-width="0.5" />
<rect x="607.4" y="175" width="2.5" height="17" fill="#666" opacity="0.55"/>
<line x1="607.9" y1="175" x2="607.9" y2="192" stroke="#111" stroke-width="0.5" />
<line x1="608.51" y1="175" x2="608.51" y2="192" stroke="#111" stroke-width="0.5" />
<line x1="609.17" y1="175" x2="609.17" y2="192" stroke="#111" stroke-width="0.5" />
<rect x="611.1" y="175" width="1.2" height="17" fill="#666" opacity="0.55"/>
<line x1="611.6" y1="175" x2="611.6" y2="192" stroke="#111" stroke-width="0.5" />
<rect x="635" y="175" width="3.8" height="17" fill="#666" opacity="0.55"/>
<line x1="635.5" y1="175" x2="635.5" y2="192" stroke="#111" stroke-width="0.5" />
<line x1="636.36" y1="175" x2="636.36" y2="192" stroke="#111" stroke-width="0.5" />
<line x1="637.45" y1="175" x2="637.45" y2="192" stroke="#111" stroke-width="0.5" />
<line x1="638.4" y1="175" x2="638.4" y2="192" stroke="#111" stroke-width="0.5" />
<rect x="682.5" y="175" width="2.1" height="17" fill="#666" opacity="0.55"/>
<line x1="683" y1="175" x2="683" y2="192" stroke="#111" stroke-width="0.5" />
<line x1="683.8" y1="175" x2="683.8" y2="192" stroke="#111" stroke-width="0.5" />
<path d="M512.75 195.4 L513 191.62 L513.25 196.03 L513.5 190.72 L513.75 184.25 L514 191.73 L514.25 197.5 L514.5 190.44 L514.75 196.4 L515 191.03 L515.25 195.49 L515.5 191.94 L515.75 196.14 L516 191.18 L516.25 195.82 L516.5 191.65 L516.75 195.24 L517 191.17 L517.25 196.77 L517.5 191.5 L517.75 195.68 L518 190.92 L518.25 196.89 L518.5 191.59 L518.75 195.33 L519 190.4 L519.25 196.18 L519.5 190.18 L519.75 196.2 L520 190.93 L520.25 195.98 L520.5 191.8 L520.75 197.08 L521 191.46 L521.25 195.61 L521.5 191.07 L521.75 196.09 L522 190.09 L522.25 195.82 L522.5 176.58 L522.75 176.51 L523 176.58 L523.25 176.52 L523.5 175.78 L523.75 198.63 L524 191.05 L524.25 195.66 L524.5 191.43 L524.75 195.97 L525 191.35 L525.25 195.99 L525.5 190.72 L525.75 196.29 L526 191.57 L526.25 196.67 L526.5 191.54 L526.75 195.7 L527 191.52 L527.25 196.51 L527.5 190.37 L527.75 195.87 L528 175.27 L528.25 195.74 L528.5 191.31 L528.75 196.08 L529 191.96 L529.25 195.78 L529.5 190.57 L529.75 195.94 L530 190.03 L530.25 195.63 L530.5 191.22 L530.75 196.03 L531 191.79 L531.25 196.41 L531.5 191.48 L531.75 196.18 L532 190.88 L532.25 196.42 L532.5 191.63 L532.75 195.4 L533 191.09 L533.25 196.34 L533.5 191.21 L533.75 195.6 L534 191.85 L534.25 195.24 L534.5 189.36 L534.75 195.44 L535 191.64 L535.25 196.69 L535.5 191.43 L535.75 195.59 L536 191.76 L536.25 196.74 L536.5 190.91 L536.75 195.44 L537 190.66 L537.25 195.57 L537.5 191.27 L537.75 195.62 L538 190.66 L538.25 195.99 L538.5 191.61 L538.75 195.71 L539 191.68 L539.25 195.98 L539.5 191.71 L539.75 195.37 L540 190.53 L540.25 196.15 L540.5 191.83 L540.75 195.79 L541 190.85 L541.25 195.58 L541.5 191.76 L541.75 197.41 L542 190.64 L542.25 196.01 L542.5 190.19 L542.75 197.28 L543 190.1 L543.25 195.28 L543.5 190.33 L543.75 195.94 L544 191.76 L544.25 195.84 L544.5 190.33 L544.75 196.15 L545 191.97 L545.25 195.94 L545.5 176.04 L545.75 176.34 L546 191.48 L546.25 195.76 L546.5 191.95 L546.75 196.21 L547 191.18 L547.25 195.81 L547.5 191.28 L547.75 196.91 L548 190.22 L548.25 196.32 L548.5 190.78 L548.75 195.56 L549 191.1 L549.25 196 L549.5 191.46 L549.75 196.36 L550 190.34 L550.25 197.15 L550.5 191.8 L550.75 195.35 L551 176.94 L551.25 196.46 L551.5 191.36 L551.75 196.77 L552 190.05 L552.25 195.84 L552.5 191.03 L552.75 197.35 L553 191.18 L553.25 195.58 L553.5 191.26 L553.75 176.46 L554 191.38 L554.25 195.29 L554.5 190.88 L554.75 195.67 L555 190.45 L555.25 195.52 L555.5 191.39 L555.75 197.4 L556 191.29 L556.25 197.11 L556.5 191.66 L556.75 196.05 L557 189.91 L557.25 196.27 L557.5 191.98 L557.75 197.11 L558 191.48 L558.25 195.33 L558.5 191.29 L558.75 195.85 L559 190.92 L559.25 195.63 L559.5 191.47 L559.75 195.96 L560 191.8 L560.25 195.46 L560.5 180.36 L560.75 195.58 L561 189.39 L561.25 195.3 L561.5 191.96 L561.75 195.5 L562 191.12 L562.25 195.93 L562.5 190.61 L562.75 195.7 L563 191.16 L563.25 195.75 L563.5 189.82 L563.75 195.89 L564 190.91 L564.25 196.67 L564.5 191.95 L564.75 195.62 L565 190.46 L565.25 195.25 L565.5 191 L565.75 196.51 L566 189.72 L566.25 196.16 L566.5 190.28 L566.75 197.81 L567 191.62 L567.25 196.17 L567.5 191.52 L567.75 195.65 L568 191.27 L568.25 196.24 L568.5 191.14 L568.75 196.97 L569 189.8 L569.25 195.4 L569.5 191.93 L569.75 195.36 L570 190.6 L570.25 195.84 L570.5 190.88 L570.75 196.13 L571 191.66 L571.25 195.5 L571.5 176.2 L571.75 175.05 L572 175.14 L572.25 175.26 L572.5 175.18 L572.75 175.08 L573 174.46 L573.25 196.69 L573.5 178.98 L573.75 195.45 L574 190.47 L574.25 196.24 L574.5 191.45 L574.75 195.59 L575 190.98 L575.25 196.52 L575.5 191.35 L575.75 196.37 L576 189.78 L576.25 196.55 L576.5 191.86 L576.75 196.22 L577 191.13 L577.25 195.85 L577.5 191.63 L577.75 195.23 L578 191.12 L578.25 195.42 L578.5 190 L578.75 195.65 L579 191.9 L579.25 196.89 L579.5 191.88 L579.75 195.92 L580 191.88 L580.25 196.89 L580.5 191.85 L580.75 195.35 L581 191.89 L581.25 195.21 L581.5 191.28 L581.75 196.25 L582 191.51 L582.25 196.06 L582.5 184.31 L582.75 196.15 L583 191.76 L583.25 196.11 L583.5 190.98 L583.75 195.75 L584 191.66 L584.25 197 L584.5 191.51 L584.75 195.57 L585 190.43 L585.25 196.12 L585.5 191.78 L585.75 195.3 L586 191.1 L586.25 197.15 L586.5 190.6 L586.75 196.66 L587 191.58 L587.25 196.47 L587.5 191.9 L587.75 195.39 L588 189.27 L588.25 195.65 L588.5 191.13 L588.75 195.24 L589 191.77 L589.25 197.82 L589.5 190.42 L589.75 196.98 L590 191.31 L590.25 195.33 L590.5 176.13 L590.75 174.89 L591 189.84 L591.25 197.65 L591.5 191.77 L591.75 195.76 L592 191.74 L592.25 195.98 L592.5 191.49 L592.75 196.43 L593 174.31 L593.25 174.11 L593.5 191.22 L593.75 195.51 L594 191.68 L594.25 195.64 L594.5 191.87 L594.75 196.04 L595 191.42 L595.25 196.3 L595.5 191.84 L595.75 196.23 L596 190.83 L596.25 196.08 L596.5 191.47 L596.75 195.36 L597 191.95 L597.25 195.9 L597.5 190.93 L597.75 195.89 L598 191.09 L598.25 195.5 L598.5 190.65 L598.75 196.29 L599 192 L599.25 195.74 L599.5 191.34 L599.75 195.82 L600 190.55 L600.25 198.37 L600.5 191.19 L600.75 196.1 L601 174.47 L601.25 174.91 L601.5 174.66 L601.75 174.12 L602 174.82 L602.25 174.41 L602.5 174.69 L602.75 174.44 L603 175.09 L603.25 174.61 L603.5 174.35 L603.75 174.27 L604 191.2 L604.25 195.46 L604.5 190.36 L604.75 195.82 L605 190.39 L605.25 196.62 L605.5 190.48 L605.75 196.15 L606 191.88 L606.25 196.11 L606.5 191.9 L606.75 196.31 L607 191.08 L607.25 195.36 L607.5 175.59 L607.75 174.43 L608 175.35 L608.25 174.82 L608.5 174.54 L608.75 174.82 L609 174.38 L609.25 174.36 L609.5 174.67 L609.75 174.99 L610 191.58 L610.25 198.12 L610.5 191.73 L610.75 195.47 L611 191.65 L611.25 174.55 L611.5 174.46 L611.75 174.87 L612 174.87 L612.25 175.06 L612.5 191.93 L612.75 197.59 L613 191.11 L613.25 195.48 L613.5 191.98 L613.75 195.21 L614 191.19 L614.25 195.42 L614.5 191.8 L614.75 195.97 L615 191.27 L615.25 196.35 L615.5 189.71 L615.75 195.93 L616 191.84 L616.25 196.7 L616.5 190.45 L616.75 196.2 L617 189.59 L617.25 195.47 L617.5 191.85 L617.75 196.93 L618 190.78 L618.25 195.63 L618.5 190.94 L618.75 195.69 L619 176.39 L619.25 177.09 L619.5 191.22 L619.75 195.21 L620 191.37 L620.25 196.01 L620.5 191.49 L620.75 195.65 L621 191.26 L621.25 195.68 L621.5 191.9 L621.75 195.97 L622 190.57 L622.25 195.84 L622.5 191.02 L622.75 196.85 L623 190.96 L623.25 196.29 L623.5 191.89 L623.75 195.23 L624 189.99 L624.25 196.12 L624.5 190.64 L624.75 195.46 L625 190.01 L625.25 196.88 L625.5 191.33 L625.75 195.22 L626 191.25 L626.25 196.93 L626.5 176.88 L626.75 176.45 L627 191.82 L627.25 196.3 L627.5 191.67 L627.75 195.52 L628 191.54 L628.25 195.54 L628.5 191.05 L628.75 195.72 L629 191.3 L629.25 195.26 L629.5 191.38 L629.75 195.8 L630 190.59 L630.25 195.69 L630.5 191.77 L630.75 195.64 L631 191.27 L631.25 197.92 L631.5 190.69 L631.75 195.42 L632 191.44 L632.25 196.84 L632.5 190.75 L632.75 195.44 L633 191.86 L633.25 195.91 L633.5 191.45 L633.75 195.2 L634 191.7 L634.25 195.28 L634.5 191.63 L634.75 195.6 L635 175.35 L635.25 174.6 L635.5 173.72 L635.75 174.63 L636 174.9 L636.25 173.94 L636.5 173.98 L636.75 174.54 L637 173.78 L637.25 173.92 L637.5 175.01 L637.75 175.18 L638 174.23 L638.25 175.17 L638.5 175.34 L638.75 174.67 L639 191.96 L639.25 195.52 L639.5 190.99 L639.75 196.96 L640 191.66 L640.25 196.52 L640.5 191.43 L640.75 197.24 L641 190.81 L641.25 195.97 L641.5 191.3 L641.75 197.06 L642 191.2 L642.25 197.56 L642.5 190.49 L642.75 197.3 L643 191.21 L643.25 196.41 L643.5 191.62 L643.75 196.04 L644 191.21 L644.25 195.94 L644.5 191.68 L644.75 195.91 L645 190.4 L645.25 195.51 L645.5 191.43 L645.75 196.09 L646 191.09 L646.25 195.77 L646.5 191.51 L646.75 195.63 L647 191.57 L647.25 197.03 L647.5 191.83 L647.75 196.14 L648 189.23 L648.25 196.73 L648.5 191.88 L648.75 196.71 L649 190.1 L649.25 197.31 L649.5 191.86 L649.75 196.9 L650 191.28 L650.25 196.04 L650.5 189.75 L650.75 195.65 L651 191.98 L651.25 196.8 L651.5 191.35 L651.75 196.86 L652 190.67 L652.25 196.12 L652.5 190.19 L652.75 196.46 L653 191.94 L653.25 196.61 L653.5 191.09 L653.75 196.92 L654 191.07 L654.25 195.6 L654.5 191 L654.75 196.08 L655 191.39 L655.25 195.61 L655.5 191.18 L655.75 195.29 L656 191.48 L656.25 195.79 L656.5 191.06 L656.75 196.77 L657 190.67 L657.25 196.17 L657.5 191.26 L657.75 196.93 L658 174.39 L658.25 175.26 L658.5 191.84 L658.75 195.36 L659 191.3 L659.25 195.99 L659.5 191.46 L659.75 195.41 L660 191.9 L660.25 195.49 L660.5 191.83 L660.75 196.38 L661 190.61 L661.25 195.36 L661.5 190.71 L661.75 196.75 L662 190.42 L662.25 195.79 L662.5 190.63 L662.75 196.03 L663 190.55 L663.25 196.19 L663.5 191.98 L663.75 195.45 L664 191.41 L664.25 195.59 L664.5 176.5 L664.75 195.2 L665 190.86 L665.25 195.31 L665.5 190.63 L665.75 196.56 L666 191.21 L666.25 196.09 L666.5 191.56 L666.75 196.48 L667 191.66 L667.25 196.01 L667.5 191.97 L667.75 195.3 L668 191.33 L668.25 195.24 L668.5 191.13 L668.75 195.87 L669 190.78 L669.25 195.89 L669.5 191.28 L669.75 196.77 L670 178.41 L670.25 195.47 L670.5 191.88 L670.75 195.82 L671 191.91 L671.25 196.61 L671.5 191.96 L671.75 195.75 L672 190.55 L672.25 196.89 L672.5 190.66 L672.75 196.2 L673 191.83 L673.25 195.74 L673.5 191.18 L673.75 195.96 L674 191.47 L674.25 195.46 L674.5 190.66 L674.75 197.37 L675 191.71 L675.25 198.2 L675.5 191.25 L675.75 195.89 L676 190.83 L676.25 196.42 L676.5 190.52 L676.75 196.16 L677 191.17 L677.25 196.24 L677.5 191.88 L677.75 195.56 L678 190.84 L678.25 195.36 L678.5 191.58 L678.75 195.21 L679 191.09 L679.25 195.34 L679.5 190.73 L679.75 196 L680 191.24 L680.25 195.6 L680.5 191.21 L680.75 196.46 L681 191.77 L681.25 196.28 L681.5 191.71 L681.75 196.07 L682 190.81 L682.25 195.99 L682.5 175.28 L682.75 175 L683 175.22 L683.25 173.9 L683.5 175.09 L683.75 174.92 L684 174.12 L684.25 175.18 L684.5 175.03 L684.75 195.62 L685 191.98 L685.25 195.76 L685.5 190.13 L685.75 196.4 L686 190.76 L686.25 196.68 L686.5 191.98 L686.75 197.77 L687 182.27 L687.25 195.61 L687.5 191.83 L687.75 197.27 L688 191.17 L688.25 196.75 L688.5 191.69 L688.75 195.76 L689 191.64 L689.25 195.34 L689.5 191.72 L689.75 195.28 L690 191.93 L690.25 196.82 L690.5 191.63 L690.75 197.49 L691 188.9 L691.25 196.73 L691.5 190.98 L691.75 195.47 L692 190.61 L692.25 175.98 L692.5 176.95 L692.75 195.5 L693 191 L693.25 197.77 L693.5 191.87 L693.75 195.59 L694 189.51 L694.25 195.55 L694.5 192 L694.75 196.05 L695 191.45 L695.25 196.44 L695.5 190.56 L695.75 195.48 L696 190.06 L696.25 197.14 L696.5 190.63 L696.75 197.78 L697 190.34 L697.25 196.87 L697.5 191.62 L697.75 195.43 L698 191.15 L698.25 196.91 L698.5 191.58 L698.75 196.32 L699 191.76 L699.25 195.61 L699.5 191.83 L699.75 195.72 L700 190.27 L700.25 195.58 L700.5 190.83 L700.75 196.25 L701 190.72 L701.25 197.66 L701.5 191.35 L701.75 195.44 L702 191.4 L702.25 197.42 L702.5 191.37 L702.75 195.37 L703 190.7 L703.25 195.6 L703.5 190.24 L703.75 196.69 L704 191.3 L704.25 195.65 L704.5 191.71 L704.75 196.44 L705 190.72 L705.25 196.29 L705.5 176.59 L705.75 196.5 L706 190.98 L706.25 197.15 L706.5 191.07 L706.75 195.42 L707 191.62 L707.25 195.65 L707.5 191.15 L707.75 195.37 L708 175.81 L708.25 195.27 L708.5 191.67 L708.75 197.56 L709 190.25 L709.25 197.28 L709.5 190.77 L709.75 196.4 L710 191.08 L710.25 196.88 L710.5 189.93 L710.75 195.74 L711 190.45 L711.25 196.66 L711.5 191.96 L711.75 195.36 L712 190.46 L712.25 195.55 L712.5 191.76 L712.75 196.46 L713 191.73 L713.25 198.45 L713.5 191.41 L713.75 196.27 L714 191.42 L714.25 195.99 L714.5 191.53 L714.75 196.31 L715 190.94 L715.25 195.22 L715.5 189.52 L715.75 197.03 L716 173.96 L716.25 175.71 L716.5 174.44 L716.75 174.38 L717 190.77 L717.25 197.71 L717.5 191.34 L717.75 196.13 L718 191.86 L718.25 196.38 L718.5 190.59 L718.75 195.32 L719 176.09 L719.25 176.77 L719.5 191.05 L719.75 196.26 L720 190.94 L720.25 195.89 L720.5 191.12 L720.75 196.79 L721 189.92 L721.25 195.52 L721.5 191.37 L721.75 196.84 L722 191.79 L722.25 195.54 L722.5 191.56 L722.75 195.92 L723 189.87 L723.25 196.01 L723.5 191.87 L723.75 195.85 L724 190.17 L724.25 195.28 L724.5 191.85 L724.75 195.65 L725 191.91 L725.25 195.88 L725.5 191.71 L725.75 195.92 L726 191.59 L726.25 195.76 L726.5 191.82 L726.75 195.84 L727 191.55 L727.25 195.33 L727.5 191.08 L727.75 195.33 L728 191.56 L728.25 195.35 L728.5 191.55 L728.75 195.28 L729 175.66 L729.25 174.99 L729.5 191.6 L729.75 195.43 L730 191.87 L730.25 195.75 L730.5 191.83 L730.75 196.75 L731 190.09 L731.25 196.78 L731.5 190.2 L731.75 195.48 L732 191.44 L732.25 195.79 L732.5 191.21 L732.75 195.47 L733 191.81 L733.25 195.28 L733.5 191.96 L733.75 195.81 L734 190.75 L734.25 195.33 L734.5 190.25 L734.75 195.22 L735 190.47 L735.25 196.27 L735.5 191.64 L735.75 197.29 L736 191.83 L736.25 195.97 L736.5 192 L736.75 196.35 L737 190.56 L737.25 196.36 L737.5 191.72 L737.75 195.54 L738 188.98 L738.25 195.46 L738.5 191.97 L738.75 195.79 L739 183.9 L739.25 184.6 L739.5 191.06 L739.75 195.47 L740 190.11 L740.25 196.99 L740.5 190.74 L740.75 197.76 L741 190.95 L741.25 195.33 L741.5 191.7 L741.75 195.59 L742 189.48 L742.25 195.35 L742.5 191.64 L742.75 195.51 L743 190.88 L743.25 197.02 L743.5 191.21 L743.75 196.02 L744 190.69 L744.25 195.88 L744.5 189.94 L744.75 197.47" fill="none" stroke="#000" stroke-width="0.55" stroke-linejoin="round" />
<line x1="516.5" y1="240.8" x2="516.5" y2="227.1" stroke="#444" stroke-width="0.7" />
<line x1="651.3" y1="240.8" x2="651.3" y2="222" stroke="#444" stroke-width="0.7" />
<line x1="734.5" y1="240.8" x2="734.5" y2="220.6" stroke="#444" stroke-width="0.7" />
<line x1="741.9" y1="240.8" x2="741.9" y2="235" stroke="#444" stroke-width="0.7" />
<path d="M588.1 241 L588.3 219.8 L591 219.8 L591.25 241" fill="none" stroke="#111" stroke-width="1"/>
<path d="M512.75 241.72 L513.05 240.13 L513.35 241.68 L513.65 239.86 L513.95 241.74 L514.25 240.14 L514.55 242.2 L514.85 239.63 L515.15 242.95 L515.45 238.53 L515.75 241.68 L516.05 239.7 L516.35 241.76 L516.65 239.76 L516.95 241.68 L517.25 239.79 L517.55 242.29 L517.85 239.36 L518.15 241.75 L518.45 239.81 L518.75 242.18 L519.05 239.88 L519.35 241.71 L519.65 239.6 L519.95 241.83 L520.25 240.05 L520.55 242.08 L520.85 239.96 L521.15 242.7 L521.45 239.66 L521.75 241.96 L522.05 239.75 L522.35 242.72 L522.65 238.92 L522.95 242.85 L523.25 240.08 L523.55 241.92 L523.85 240.12 L524.15 242.2 L524.45 239.11 L524.75 241.94 L525.05 239.41 L525.35 241.78 L525.65 239.58 L525.95 241.82 L526.25 240 L526.55 241.77 L526.85 240.05 L527.15 242.59 L527.45 239.96 L527.75 242.13 L528.05 239.98 L528.35 241.96 L528.65 240.15 L528.95 242.09 L529.25 240 L529.55 241.69 L529.85 239.72 L530.15 241.87 L530.45 239.83 L530.75 242.14 L531.05 240.06 L531.35 242.05 L531.65 240.34 L531.95 242.71 L532.25 240.02 L532.55 242.3 L532.85 240.57 L533.15 242.64 L533.45 240.68 L533.75 242.86 L534.05 239.83 L534.35 242.37 L534.65 240.48 L534.95 243.47 L535.25 240.14 L535.55 242.14 L535.85 240.21 L536.15 242.34 L536.45 240.22 L536.75 241.82 L537.05 240.1 L537.35 242.47 L537.65 239.66 L537.95 241.98 L538.25 239.69 L538.55 241.5 L538.85 239.17 L539.15 241.42 L539.45 239.38 L539.75 241.25 L540.05 239.62 L540.35 241.51 L540.65 239.02 L540.95 241.49 L541.25 239.33 L541.55 241.72 L541.85 239.12 L542.15 241.51 L542.45 239.41 L542.75 241.54 L543.05 238.84 L543.35 241.98 L543.65 238.99 L543.95 241.89 L544.25 239.58 L544.55 241.44 L544.85 239.25 L545.15 241.43 L545.45 239.62 L545.75 241.16 L546.05 238.19 L546.35 241.69 L546.65 238.69 L546.95 241.32 L547.25 239.25 L547.55 241.44 L547.85 239.03 L548.15 241.29 L548.45 239.21 L548.75 241.44 L549.05 239.54 L549.35 241.67 L549.65 239.03 L549.95 241.89 L550.25 239.05 L550.55 241.55 L550.85 239.44 L551.15 241.36 L551.45 239.49 L551.75 241.52 L552.05 239.38 L552.35 241.2 L552.65 239.02 L552.95 242.23 L553.25 239.54 L553.55 241.84 L553.85 239.11 L554.15 242.02 L554.45 239.62 L554.75 241.56 L555.05 239.54 L555.35 242.04 L555.65 239.53 L555.95 242.21 L556.25 239.85 L556.55 241.65 L556.85 239.67 L557.15 241.72 L557.45 239.52 L557.75 241.9 L558.05 240.12 L558.35 242.2 L558.65 240.04 L558.95 242.08 L559.25 239.5 L559.55 241.73 L559.85 239.7 L560.15 242.63 L560.45 239.04 L560.75 241.92 L561.05 239.71 L561.35 241.69 L561.65 239.89 L561.95 241.91 L562.25 238.33 L562.55 242.68 L562.85 239.74 L563.15 241.94 L563.45 239.32 L563.75 242.23 L564.05 239.73 L564.35 241.86 L564.65 239.43 L564.95 241.87 L565.25 239.38 L565.55 242.66 L565.85 239.92 L566.15 241.69 L566.45 239.86 L566.75 241.76 L567.05 240.02 L567.35 242.1 L567.65 239.89 L567.95 242 L568.25 239.81 L568.55 242.18 L568.85 239.9 L569.15 242.21 L569.45 240.07 L569.75 242.31 L570.05 240.02 L570.35 242.13 L570.65 239.93 L570.95 242.87 L571.25 239.53 L571.55 241.67 L571.85 238.94 L572.15 242.09 L572.45 240.08 L572.75 241.9 L573.05 239.97 L573.35 242.43 L573.65 238.75 L573.95 242.07 L574.25 239.79 L574.55 242.19 L574.85 240.05 L575.15 242.51 L575.45 239.95 L575.75 242.35 L576.05 239.57 L576.35 242.24 L576.65 239.75 L576.95 241.67 L577.25 239.85 L577.55 242.17 L577.85 239.99 L578.15 242.98 L578.45 239.98 L578.75 242.2 L579.05 239.89 L579.35 241.73 L579.65 239.81 L579.95 241.69 L580.25 239.56 L580.55 242.07 L580.85 239.5 L581.15 241.83 L581.45 239.75 L581.75 242.01 L582.05 239.74 L582.35 242.1 L582.65 239.25 L582.95 241.86 L583.25 240 L583.55 242.22 L583.85 239.65 L584.15 241.73 L584.45 239.5 L584.75 241.9 L585.05 240.01 L585.35 241.85 L585.65 239.84 L585.95 242.37 L586.25 239.16 L586.55 242.38 L586.85 240.13 L587.15 241.78 L587.45 239.67 L587.75 242.27 L588.05 239.85 L588.35 241.95 L588.65 239.43 L588.95 242.34 L589.25 240.02 L589.55 242.4 L589.85 239.63 L590.15 242.24 L590.45 239.52 L590.75 241.86 L591.05 239.71 L591.35 242.13 L591.65 240.09 L591.95 241.77 L592.25 239.96 L592.55 241.89 L592.85 239.89 L593.15 241.82 L593.45 239.83 L593.75 241.76 L594.05 239.99 L594.35 241.93 L594.65 239.42 L594.95 241.67 L595.25 239.78 L595.55 241.65 L595.85 239.57 L596.15 241.8 L596.45 239.81 L596.75 242.04 L597.05 239.04 L597.35 241.97 L597.65 239.64 L597.95 242.31 L598.25 239.12 L598.55 242.22 L598.85 239.92 L599.15 241.77 L599.45 239.28 L599.75 241.81 L600.05 239.47 L600.35 241.71 L600.65 240.01 L600.95 241.69 L601.25 239.8 L601.55 241.95 L601.85 239.75 L602.15 242.31 L602.45 240.07 L602.75 242.02 L603.05 239.92 L603.35 242.12 L603.65 239.59 L603.95 242.09 L604.25 239.95 L604.55 242.63 L604.85 240.1 L605.15 242.38 L605.45 239.53 L605.75 241.99 L606.05 239.76 L606.35 242.68 L606.65 239.7 L606.95 241.89 L607.25 240.05 L607.55 241.76 L607.85 240.04 L608.15 242.17 L608.45 239.71 L608.75 241.8 L609.05 239.7 L609.35 241.8 L609.65 239.72 L609.95 241.74 L610.25 239.95 L610.55 241.95 L610.85 239.8 L611.15 242.64 L611.45 239.84 L611.75 241.8 L612.05 240.12 L612.35 241.93 L612.65 240.15 L612.95 242.41 L613.25 239.7 L613.55 242.41 L613.85 240.06 L614.15 241.9 L614.45 239.61 L614.75 241.93 L615.05 239.91 L615.35 241.91 L615.65 238.76 L615.95 242.76 L616.25 239.92 L616.55 242.07 L616.85 239.55 L617.15 241.9 L617.45 240.14 L617.75 241.75 L618.05 239.85 L618.35 242.54 L618.65 239.73 L618.95 241.88 L619.25 239.08 L619.55 241.69 L619.85 239.24 L620.15 241.96 L620.45 239.9 L620.75 242.32 L621.05 239.16 L621.35 241.67 L621.65 239.61 L621.95 241.66 L622.25 239.65 L622.55 242.12 L622.85 239.63 L623.15 242.48 L623.45 239.36 L623.75 242.05 L624.05 239.43 L624.35 241.73 L624.65 239.46 L624.95 242.19 L625.25 239.18 L625.55 241.87 L625.85 240.07 L626.15 241.87 L626.45 239.91 L626.75 242.09 L627.05 239.66 L627.35 241.89 L627.65 240.04 L627.95 242.42 L628.25 240.06 L628.55 242.12 L628.85 239.61 L629.15 242.16 L629.45 239.36 L629.75 242.68 L630.05 240.14 L630.35 241.8 L630.65 240 L630.95 241.8 L631.25 239.89 L631.55 241.94 L631.85 239.77 L632.15 242.4 L632.45 239.85 L632.75 243.36 L633.05 239.72 L633.35 242.01 L633.65 239.58 L633.95 241.84 L634.25 239.83 L634.55 241.85 L634.85 239.65 L635.15 242.55 L635.45 239.66 L635.75 242.07 L636.05 239.3 L636.35 241.78 L636.65 240.01 L636.95 241.83 L637.25 239.08 L637.55 241.67 L637.85 239.89 L638.15 243.52 L638.45 239.29 L638.75 241.7 L639.05 239.96 L639.35 241.74 L639.65 240.03 L639.95 241.74 L640.25 239.39 L640.55 242.36 L640.85 239.77 L641.15 242.54 L641.45 240.05 L641.75 242.17 L642.05 239.5 L642.35 242.42 L642.65 239.19 L642.95 242.22 L643.25 240.1 L643.55 241.91 L643.85 239.6 L644.15 241.79 L644.45 239.61 L644.75 242.84 L645.05 239.82 L645.35 241.78 L645.65 239.67 L645.95 242.39 L646.25 239.68 L646.55 242.23 L646.85 240.07 L647.15 241.79 L647.45 239.75 L647.75 242.3 L648.05 239.46 L648.35 241.94 L648.65 239.91 L648.95 241.91 L649.25 240.03 L649.55 242.09 L649.85 239.71 L650.15 242.18 L650.45 240.14 L650.75 242.07 L651.05 240.07 L651.35 241.99 L651.65 240.04 L651.95 242.15 L652.25 239.61 L652.55 241.92 L652.85 239.72 L653.15 241.9 L653.45 239.86 L653.75 242.96 L654.05 240.06 L654.35 242.42 L654.65 239.8 L654.95 242.06 L655.25 240.07 L655.55 242.72 L655.85 240.05 L656.15 241.79 L656.45 239.75 L656.75 242.49 L657.05 240.11 L657.35 241.68 L657.65 238.99 L657.95 242.15 L658.25 239.6 L658.55 242.41 L658.85 239.46 L659.15 242.14 L659.45 239.45 L659.75 241.77 L660.05 239.98 L660.35 242.33 L660.65 240.09 L660.95 241.88 L661.25 239.98 L661.55 242.69 L661.85 240.04 L662.15 242.32 L662.45 240 L662.75 241.73 L663.05 240.08 L663.35 241.95 L663.65 239.92 L663.95 242.21 L664.25 239.59 L664.55 242.64 L664.85 239.65 L665.15 241.93 L665.45 240.12 L665.75 242.42 L666.05 239.86 L666.35 242.52 L666.65 240.12 L666.95 242.71 L667.25 240.12 L667.55 241.69 L667.85 240.1 L668.15 241.76 L668.45 238.93 L668.75 242.37 L669.05 239.71 L669.35 241.91 L669.65 240.09 L669.95 241.85 L670.25 239.38 L670.55 242.44 L670.85 239.49 L671.15 242.27 L671.45 239.94 L671.75 241.87 L672.05 239.85 L672.35 241.76 L672.65 239.5 L672.95 241.98 L673.25 239.51 L673.55 242.04 L673.85 239.94 L674.15 242.14 L674.45 239.25 L674.75 242.57 L675.05 239.83 L675.35 242.44 L675.65 239.72 L675.95 242.55 L676.25 239.26 L676.55 242.02 L676.85 239.59 L677.15 242.24 L677.45 239.86 L677.75 241.72 L678.05 239.37 L678.35 241.8 L678.65 239.82 L678.95 241.89 L679.25 239.85 L679.55 241.94 L679.85 239.86 L680.15 242.61 L680.45 239.92 L680.75 241.73 L681.05 239.68 L681.35 242.06 L681.65 239.94 L681.95 242.21 L682.25 239.87 L682.55 242.12 L682.85 239.81 L683.15 241.82 L683.45 239.87 L683.75 241.76 L684.05 239.71 L684.35 242 L684.65 240.01 L684.95 241.83 L685.25 240.07 L685.55 242.14 L685.85 239.89 L686.15 241.87 L686.45 239.98 L686.75 241.96 L687.05 239.69 L687.35 241.89 L687.65 240.03 L687.95 242.36 L688.25 239.64 L688.55 242.49 L688.85 239.79 L689.15 242.06 L689.45 239.81 L689.75 241.71 L690.05 239.77 L690.35 242.14 L690.65 239.6 L690.95 241.94 L691.25 240 L691.55 241.96 L691.85 239.84 L692.15 241.71 L692.45 239.21 L692.75 241.77 L693.05 239.41 L693.35 241.85 L693.65 239.48 L693.95 242.01 L694.25 239.81 L694.55 242.18 L694.85 239.12 L695.15 242.32 L695.45 239.61 L695.75 241.99 L696.05 239.39 L696.35 242.35 L696.65 239.63 L696.95 242.65 L697.25 240 L697.55 241.7 L697.85 239.76 L698.15 242.61 L698.45 240.06 L698.75 242.17 L699.05 239.33 L699.35 241.69 L699.65 239.45 L699.95 241.73 L700.25 239.97 L700.55 241.76 L700.85 239.91 L701.15 242.33 L701.45 239.3 L701.75 242.08 L702.05 240.07 L702.35 241.71 L702.65 240.07 L702.95 242.56 L703.25 239.91 L703.55 242.45 L703.85 239.68 L704.15 241.79 L704.45 240.1 L704.75 241.68 L705.05 239.6 L705.35 242.4 L705.65 240.1 L705.95 241.79 L706.25 239.77 L706.55 242.06 L706.85 240.04 L707.15 241.79 L707.45 240 L707.75 242.31 L708.05 239.99 L708.35 241.66 L708.65 239.44 L708.95 242.71 L709.25 239.69 L709.55 242.61 L709.85 239.65 L710.15 241.67 L710.45 240.09 L710.75 241.95 L711.05 240.04 L711.35 241.72 L711.65 239.58 L711.95 242.09 L712.25 239.58 L712.55 242.11 L712.85 240.09 L713.15 242.4 L713.45 239.66 L713.75 242.09 L714.05 239.75 L714.35 241.73 L714.65 239.44 L714.95 241.66 L715.25 239.65 L715.55 242.33 L715.85 239.72 L716.15 241.67 L716.45 239.92 L716.75 242.13 L717.05 239.8 L717.35 241.72 L717.65 239.98 L717.95 241.69 L718.25 239.62 L718.55 242.59 L718.85 239.12 L719.15 241.84 L719.45 239.53 L719.75 241.72 L720.05 239.89 L720.35 241.76 L720.65 239.64 L720.95 241.9 L721.25 239.79 L721.55 242.48 L721.85 239.87 L722.15 242.48 L722.45 239.55 L722.75 241.66 L723.05 240.06 L723.35 242.32 L723.65 239.97 L723.95 241.68 L724.25 240.07 L724.55 242.41 L724.85 240.08 L725.15 242.16 L725.45 239.88 L725.75 241.68 L726.05 239.84 L726.35 242 L726.65 239.71 L726.95 241.89 L727.25 240.09 L727.55 242.4 L727.85 240 L728.15 242.55 L728.45 240.02 L728.75 241.97 L729.05 239.27 L729.35 241.78 L729.65 240.05 L729.95 241.78 L730.25 239.64 L730.55 242.42 L730.85 239.87 L731.15 241.88 L731.45 240.03 L731.75 241.81 L732.05 239.41 L732.35 242.21 L732.65 239.9 L732.95 241.78 L733.25 239.77 L733.55 241.7 L733.85 239.61 L734.15 241.73 L734.45 240.06 L734.75 242.92 L735.05 239.76 L735.35 242.68 L735.65 239.9 L735.95 241.82 L736.25 239.56 L736.55 241.85 L736.85 240.13 L737.15 241.94 L737.45 239.71 L737.75 242.25 L738.05 239.96 L738.35 242.05 L738.65 239.7 L738.95 242.22 L739.25 239.62 L739.55 241.92 L739.85 239.98 L740.15 242.22 L740.45 239.99 L740.75 242.01 L741.05 240.14 L741.35 242.29 L741.65 240.09 L741.95 242.64 L742.25 240.06 L742.55 241.7 L742.85 239.68 L743.15 242.09 L743.45 240.1 L743.75 242.38 L744.05 239.65 L744.35 241.91 L744.65 238.96" fill="none" stroke="#000" stroke-width="0.5" stroke-linejoin="round" />
<rect x="749.8" y="51.9" width="20.8" height="20.8" fill="#000"/>
<circle cx="760.2" cy="62.3" r="4.6" fill="#fff" stroke="none" stroke-width="1"/>
<rect x="751.15" y="93.55" width="18.9" height="18.4" fill="#fff" stroke="#111" stroke-width="1.1"/>
<rect x="751.05" y="93.45" width="9.65" height="9.4" fill="#000"/>
<rect x="760.5" y="93.45" width="9.65" height="9.4" fill="#000"/>
<rect x="760.5" y="102.65" width="9.65" height="9.4" fill="#000"/>
<line x1="760.6" y1="93.55" x2="760.6" y2="111.95" stroke="#111" stroke-width="1.1" />
<line x1="751.15" y1="102.75" x2="770.05" y2="102.75" stroke="#111" stroke-width="1.1" />
<circle cx="760.6" cy="102.75" r="4.2" fill="#fff" stroke="#111" stroke-width="1.1"/>
<rect x="751.15" y="133.35" width="18.9" height="18.7" fill="#fff" stroke="#111" stroke-width="1.1"/>
<rect x="751.05" y="133.25" width="9.65" height="9.55" fill="#000"/>
<rect x="760.5" y="142.6" width="9.65" height="9.55" fill="#000"/>
<line x1="760.6" y1="133.35" x2="760.6" y2="152.05" stroke="#111" stroke-width="1.1" />
<line x1="751.15" y1="142.7" x2="770.05" y2="142.7" stroke="#111" stroke-width="1.1" />
<circle cx="760.6" cy="142.7" r="4.2" fill="#fff" stroke="#111" stroke-width="1.1"/>
<rect x="751.15" y="175.85" width="18.9" height="19" fill="#fff" stroke="#111" stroke-width="1.1"/>
<rect x="751.05" y="175.75" width="9.65" height="9.7" fill="#000"/>
<line x1="760.6" y1="175.85" x2="760.6" y2="194.85" stroke="#111" stroke-width="1.1" />
<line x1="751.15" y1="185.35" x2="770.05" y2="185.35" stroke="#111" stroke-width="1.1" />
<circle cx="760.6" cy="185.35" r="4.2" fill="#fff" stroke="#111" stroke-width="1.1"/>
<rect x="751.25" y="221.15" width="18.8" height="18.7" fill="#fff" stroke="#111" stroke-width="1.1"/>
<line x1="760.65" y1="221.15" x2="760.65" y2="239.85" stroke="#111" stroke-width="1.1" />
<line x1="751.25" y1="230.5" x2="770.05" y2="230.5" stroke="#111" stroke-width="1.1" />
<circle cx="760.65" cy="230.5" r="4.2" fill="#fff" stroke="#111" stroke-width="1.1"/>
<circle cx="322.9" cy="302.5" r="4.35" fill="#000" stroke="#000" stroke-width="1.1"/>
<circle cx="333.1" cy="302.5" r="4.35" fill="#fff" stroke="#000" stroke-width="1.1"/>
<circle cx="322.9" cy="312.75" r="4.35" fill="#fff" stroke="#000" stroke-width="1.1"/>
<circle cx="333.1" cy="312.75" r="4.35" fill="#fff" stroke="#000" stroke-width="1.1"/>
<text x="257.7" y="326" font-size="8.6" font-family="Liberation Sans" fill="#333" textLength="56" lengthAdjust="spacingAndGlyphs">n RTX binding</text>
<text x="257.7" y="336.2" font-size="8.6" font-family="Liberation Sans" fill="#333" textLength="36" lengthAdjust="spacingAndGlyphs">(n = 0-4)</text>
<line x1="328.1" y1="322.5" x2="328.1" y2="333.5" stroke="#000" stroke-width="0.9" />
<path d="M326.6 323.6 L328.1 321.2 L329.6 323.6 Z M326.6 332.4 L328.1 334.8 L329.6 332.4 Z" fill="#000"/>
<rect x="318.65" y="339.55" width="18.9" height="19.3" fill="#fff" stroke="#111" stroke-width="1.1"/>
<rect x="318.55" y="339.45" width="9.65" height="9.85" fill="#000"/>
<line x1="328.1" y1="339.55" x2="328.1" y2="358.85" stroke="#111" stroke-width="1.1" />
<line x1="318.65" y1="349.2" x2="337.55" y2="349.2" stroke="#111" stroke-width="1.1" />
<circle cx="328.1" cy="349.2" r="4.2" fill="#fff" stroke="#111" stroke-width="1.1"/>
<text x="341.3" y="330" font-family="Liberation Serif" font-style="italic" font-size="10" fill="#222" textLength="18.7" lengthAdjust="spacingAndGlyphs">f<tspan font-size="7.2" dx="1.4" dy="-4.2">n</tspan><tspan dx="0.6" dy="4.2">L</tspan><tspan font-size="7.4" dy="2" font-style="normal">0</tspan></text>
<text x="371.2" y="331.3" font-family="Liberation Serif" font-style="italic" font-size="11.5" fill="#222">P<tspan font-size="8" dy="2.2">o</tspan></text>
<text x="385.4" y="331.3" font-size="11.5" font-family="Liberation Serif" fill="#222" textLength="7.7" lengthAdjust="spacingAndGlyphs">=</text>
<line x1="398.1" y1="328.5" x2="430" y2="328.5" stroke="#222" stroke-width="0.8" />
<text x="403.7" y="326.2" font-family="Liberation Serif" font-style="italic" font-size="8.6" fill="#222" textLength="20.7" lengthAdjust="spacingAndGlyphs">f<tspan font-size="6.19" dx="1.2" dy="-3.61">n</tspan><tspan dx="0.52" dy="3.61">L</tspan><tspan font-size="6.36" dy="1.72" font-style="normal">0</tspan></text>
<text x="398.5" y="336.6" font-family="Liberation Serif" font-size="8.6" fill="#222" textLength="31.5" lengthAdjust="spacingAndGlyphs">1+<tspan font-style="italic">f</tspan><tspan font-style="italic" font-size="6" dy="-3.6">n</tspan><tspan font-style="italic" dy="3.6">L</tspan><tspan font-size="6" dy="1.3">0</tspan></text>
<text x="233.7" y="377.9" font-size="13" font-family="Liberation Serif" fill="#222" stroke="#222" stroke-width="0.2" textLength="19.8" lengthAdjust="spacingAndGlyphs">Log</text>
<text x="254.2" y="379.4" font-size="15.5" font-family="Liberation Serif" fill="#222" stroke="#222" stroke-width="0.2" textLength="4.3" lengthAdjust="spacingAndGlyphs">(</text>
<text x="263.4" y="373.3" font-size="8.4" font-family="Liberation Serif" fill="#222" stroke="#222" stroke-width="0.2" textLength="3.8" lengthAdjust="spacingAndGlyphs">1</text>
<line x1="260.4" y1="374.8" x2="270.6" y2="374.8" stroke="#222" stroke-width="0.7" />
<text x="260.6" y="381.4" font-size="8.2" font-family="Liberation Serif" fill="#222" stroke="#222" stroke-width="0.2" font-style="italic" textLength="10" lengthAdjust="spacingAndGlyphs">Po</text>
<text x="274.6" y="378.2" font-size="13" font-family="Liberation Serif" fill="#222" stroke="#222" stroke-width="0.2" textLength="7.3" lengthAdjust="spacingAndGlyphs">−</text>
<text x="286.8" y="377.9" font-size="13" font-family="Liberation Serif" fill="#222" stroke="#222" stroke-width="0.2" textLength="5" lengthAdjust="spacingAndGlyphs">1</text>
<text x="292.9" y="379.4" font-size="15.5" font-family="Liberation Serif" fill="#222" stroke="#222" stroke-width="0.2" textLength="4.3" lengthAdjust="spacingAndGlyphs">)</text>
<text x="301.7" y="378.2" font-size="13" font-family="Liberation Serif" fill="#222" stroke="#222" stroke-width="0.2" textLength="8.3" lengthAdjust="spacingAndGlyphs">=</text>
<text x="314.9" y="378.2" font-size="13" font-family="Liberation Serif" fill="#222" stroke="#222" stroke-width="0.2" textLength="7.5" lengthAdjust="spacingAndGlyphs">−</text>
<text x="323.6" y="377.9" font-size="13" font-family="Liberation Serif" fill="#222" stroke="#222" stroke-width="0.2" font-style="italic" textLength="6.5" lengthAdjust="spacingAndGlyphs">n</text>
<text x="333.6" y="378.2" font-size="13" font-family="Liberation Serif" fill="#222" stroke="#222" stroke-width="0.2" textLength="7.7" lengthAdjust="spacingAndGlyphs">×</text>
<text x="344.9" y="377.9" font-size="13" font-family="Liberation Serif" fill="#222" stroke="#222" stroke-width="0.2" font-style="italic" textLength="19.8" lengthAdjust="spacingAndGlyphs">Log</text>
<text x="365.3" y="379.4" font-size="15.5" font-family="Liberation Serif" fill="#222" stroke="#222" stroke-width="0.2" textLength="4.3" lengthAdjust="spacingAndGlyphs">(</text>
<text x="370.5" y="377.9" font-size="13" font-family="Liberation Serif" fill="#222" stroke="#222" stroke-width="0.2" font-style="italic" textLength="5.5" lengthAdjust="spacingAndGlyphs">f</text>
<text x="377.6" y="379.4" font-size="15.5" font-family="Liberation Serif" fill="#222" stroke="#222" stroke-width="0.2" textLength="4.3" lengthAdjust="spacingAndGlyphs">)</text>
<text x="386.1" y="378.2" font-size="13" font-family="Liberation Serif" fill="#222" stroke="#222" stroke-width="0.2" textLength="7.6" lengthAdjust="spacingAndGlyphs">−</text>
<text x="398" y="377.9" font-size="13" font-family="Liberation Serif" fill="#222" stroke="#222" stroke-width="0.2" font-style="italic" textLength="19.8" lengthAdjust="spacingAndGlyphs">Log</text>
<text x="418.4" y="379.4" font-size="15.5" font-family="Liberation Serif" fill="#222" stroke="#222" stroke-width="0.2" textLength="4.3" lengthAdjust="spacingAndGlyphs">(</text>
<text x="423.5" y="377.9" font-size="13" font-family="Liberation Serif" fill="#222" stroke="#222" stroke-width="0.2" font-style="italic" textLength="7.2" lengthAdjust="spacingAndGlyphs">L</text>
<text x="430.6" y="380.2" font-size="9" font-family="Liberation Serif" fill="#222" stroke="#222" stroke-width="0.2" textLength="4.2" lengthAdjust="spacingAndGlyphs">0</text>
<text x="435.9" y="379.4" font-size="15.5" font-family="Liberation Serif" fill="#222" stroke="#222" stroke-width="0.2" textLength="4.3" lengthAdjust="spacingAndGlyphs">)</text>
<line x1="549.5" y1="265.5" x2="549.5" y2="395.9" stroke="#333" stroke-width="1.1" />
<line x1="549" y1="395.4" x2="711" y2="395.4" stroke="#333" stroke-width="1.1" />
<line x1="545.6" y1="280" x2="549.5" y2="280" stroke="#333" stroke-width="1" />
<text x="544.4" y="282.2" font-size="6.2" font-family="Liberation Sans" fill="#333" text-anchor="end">2</text>
<line x1="545.6" y1="301.2" x2="549.5" y2="301.2" stroke="#333" stroke-width="1" />
<text x="544.4" y="303.4" font-size="6.2" font-family="Liberation Sans" fill="#333" text-anchor="end">1</text>
<line x1="545.6" y1="322.3" x2="549.5" y2="322.3" stroke="#333" stroke-width="1" />
<text x="544.4" y="324.5" font-size="6.2" font-family="Liberation Sans" fill="#333" text-anchor="end">0</text>
<line x1="545.6" y1="343.5" x2="549.5" y2="343.5" stroke="#333" stroke-width="1" />
<text x="544.4" y="345.7" font-size="6.2" font-family="Liberation Sans" fill="#333" text-anchor="end">-1</text>
<line x1="545.6" y1="364.8" x2="549.5" y2="364.8" stroke="#333" stroke-width="1" />
<text x="544.4" y="367" font-size="6.2" font-family="Liberation Sans" fill="#333" text-anchor="end">-2</text>
<line x1="545.6" y1="386" x2="549.5" y2="386" stroke="#333" stroke-width="1" />
<text x="544.4" y="388.2" font-size="6.2" font-family="Liberation Sans" fill="#333" text-anchor="end">-3</text>
<line x1="552.5" y1="395.4" x2="552.5" y2="399.3" stroke="#333" stroke-width="1" />
<text x="552.5" y="407.5" font-size="6.2" font-family="Liberation Sans" fill="#333" text-anchor="middle">0</text>
<line x1="591.75" y1="395.4" x2="591.75" y2="399.3" stroke="#333" stroke-width="1" />
<text x="591.75" y="407.5" font-size="6.2" font-family="Liberation Sans" fill="#333" text-anchor="middle">1</text>
<line x1="631.25" y1="395.4" x2="631.25" y2="399.3" stroke="#333" stroke-width="1" />
<text x="631.25" y="407.5" font-size="6.2" font-family="Liberation Sans" fill="#333" text-anchor="middle">2</text>
<line x1="670.75" y1="395.4" x2="670.75" y2="399.3" stroke="#333" stroke-width="1" />
<text x="670.75" y="407.5" font-size="6.2" font-family="Liberation Sans" fill="#333" text-anchor="middle">3</text>
<line x1="710" y1="395.4" x2="710" y2="399.3" stroke="#333" stroke-width="1" />
<text x="710" y="407.5" font-size="6.2" font-family="Liberation Sans" fill="#333" text-anchor="middle">4</text>
<line x1="552.5" y1="277.1" x2="709.5" y2="392.5" stroke="#f00" stroke-width="1.4" stroke-dasharray="2 1.6"/>
<circle cx="552.5" cy="264.9" r="2" fill="none" stroke="#f00" stroke-width="0.9"/>
<circle cx="552.5" cy="267.4" r="2" fill="none" stroke="#f00" stroke-width="0.9"/>
<circle cx="552.5" cy="269.9" r="2" fill="none" stroke="#f00" stroke-width="0.9"/>
<circle cx="552.5" cy="275.5" r="2" fill="none" stroke="#f00" stroke-width="0.9"/>
<circle cx="552.5" cy="277.75" r="2" fill="none" stroke="#f00" stroke-width="0.9"/>
<circle cx="591.75" cy="295.5" r="2" fill="none" stroke="#f00" stroke-width="0.9"/>
<circle cx="591.75" cy="297.25" r="2" fill="none" stroke="#f00" stroke-width="0.9"/>
<circle cx="591.75" cy="305.5" r="2" fill="none" stroke="#f00" stroke-width="0.9"/>
<circle cx="591.75" cy="311.25" r="2" fill="none" stroke="#f00" stroke-width="0.9"/>
<circle cx="631.25" cy="320.5" r="2" fill="none" stroke="#f00" stroke-width="0.9"/>
<circle cx="631.25" cy="338" r="2" fill="none" stroke="#f00" stroke-width="0.9"/>
<circle cx="631.25" cy="345" r="2" fill="none" stroke="#f00" stroke-width="0.9"/>
<circle cx="631.25" cy="347.5" r="2" fill="none" stroke="#f00" stroke-width="0.9"/>
<circle cx="631.25" cy="350" r="2" fill="none" stroke="#f00" stroke-width="0.9"/>
<path d="M631.25 326.95 L633.45 330.85 L629.05 330.85 Z" fill="none" stroke="#f00" stroke-width="0.9"/>
<path d="M631.25 328.7 L633.45 332.6 L629.05 332.6 Z" fill="none" stroke="#f00" stroke-width="0.9"/>
<path d="M631.25 350.7 L633.45 354.6 L629.05 354.6 Z" fill="none" stroke="#f00" stroke-width="0.9"/>
<path d="M631.25 364.45 L633.45 368.35 L629.05 368.35 Z" fill="none" stroke="#f00" stroke-width="0.9"/>
<circle cx="670.75" cy="363.75" r="2" fill="none" stroke="#f00" stroke-width="0.9"/>
<circle cx="670.75" cy="365.5" r="2" fill="none" stroke="#f00" stroke-width="0.9"/>
<circle cx="670.75" cy="381.75" r="2" fill="none" stroke="#f00" stroke-width="0.9"/>
<circle cx="710" cy="375" r="2" fill="none" stroke="#f00" stroke-width="0.9"/>
<circle cx="710" cy="381.75" r="2" fill="none" stroke="#f00" stroke-width="0.9"/>
<line x1="550.9" y1="272.75" x2="554.1" y2="272.75" stroke="#111" stroke-width="0.9" />
<line x1="590.15" y1="304.25" x2="593.35" y2="304.25" stroke="#111" stroke-width="0.9" />
<line x1="629.65" y1="335" x2="632.85" y2="335" stroke="#111" stroke-width="0.9" />
<line x1="669.15" y1="368.75" x2="672.35" y2="368.75" stroke="#111" stroke-width="0.9" />
<line x1="708.4" y1="378" x2="711.6" y2="378" stroke="#111" stroke-width="0.9" />
<text x="650.7" y="301.8" font-family="Liberation Serif" font-size="10.5" fill="#222" textLength="46.3" lengthAdjust="spacingAndGlyphs"><tspan font-style="italic">L</tspan><tspan font-size="7.5" dy="1.8">0</tspan><tspan dy="-1.8"> = 0.007</tspan></text>
<text x="656.3" y="315.5" font-family="Liberation Serif" font-size="10.5" fill="#222" textLength="35.7" lengthAdjust="spacingAndGlyphs"><tspan font-style="italic">f</tspan> = 23.1</text>
<text x="588.8" y="420.5" font-size="10.5" font-family="Liberation Serif" fill="#222" font-style="italic" textLength="108.2" lengthAdjust="spacingAndGlyphs">Number of RTX binding</text>
<g transform="translate(532.3 351.6) rotate(-90)" font-family="Liberation Serif" fill="#222" stroke="#222" stroke-width="0.18">
<text x="0" y="0" font-size="9.4" font-style="italic" textLength="13.3" lengthAdjust="spacingAndGlyphs">Log</text>
<text x="15.2" y="1" font-size="11" textLength="2.8" lengthAdjust="spacingAndGlyphs">(</text>
<text x="22.0" y="-3.3" font-size="6.4">1</text>
<line x1="20.3" y1="-2.2" x2="27.1" y2="-2.2" stroke="#222" stroke-width="0.5"/>
<text x="20.4" y="3.0" font-size="6.2" font-style="italic">P<tspan font-size="4.6" dy="0.8">o</tspan></text>
<line x1="30.4" y1="-2.6" x2="33.8" y2="-2.6" stroke="#222" stroke-width="0.7"/>
<text x="35.3" y="0" font-size="8.4">1</text>
<text x="38.4" y="1" font-size="11" textLength="2.8" lengthAdjust="spacingAndGlyphs">)</text>
</g>
</svg>
</body></html>
